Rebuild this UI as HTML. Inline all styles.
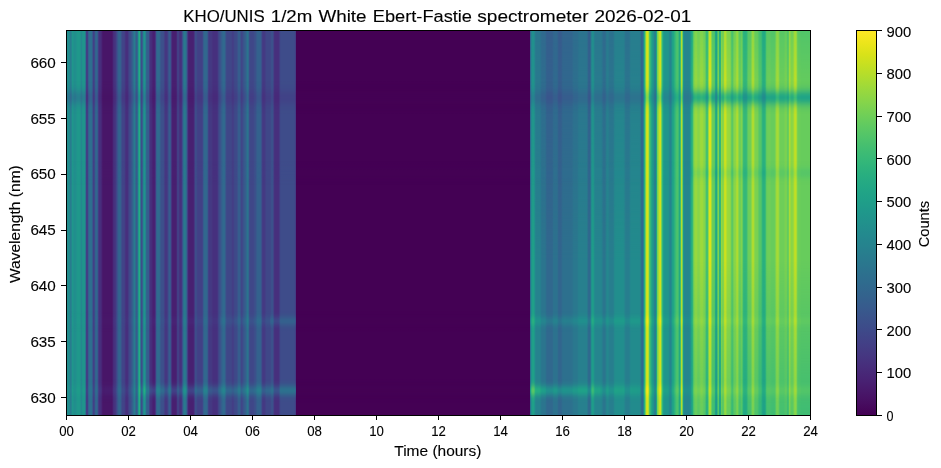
<!DOCTYPE html>
<html><head><meta charset="utf-8"><style>
html,body{margin:0;padding:0;background:#fff;width:941px;height:468px;overflow:hidden}
svg{display:block}
text{-webkit-font-smoothing:antialiased}
</style></head><body>
<svg width="941" height="468" viewBox="0 0 941 468" shape-rendering="crispEdges">
<defs><linearGradient id="vg0" x1="0" y1="0" x2="0" y2="1"><stop offset="0" stop-color="#fff" stop-opacity="0.000"/><stop offset="1" stop-color="#fff" stop-opacity="1.000"/></linearGradient><mask id="mvg0" maskUnits="userSpaceOnUse" x="67" y="260" width="743" height="155"><rect x="67" y="260" width="743" height="155" fill="url(#vg0)"/></mask><linearGradient id="vg1" x1="0" y1="0" x2="0" y2="1"><stop offset="0" stop-color="#fff" stop-opacity="1.000"/><stop offset="1" stop-color="#fff" stop-opacity="0.000"/></linearGradient><mask id="mvg1" maskUnits="userSpaceOnUse" x="67" y="31" width="743" height="59"><rect x="67" y="31" width="743" height="59" fill="url(#vg1)"/></mask><linearGradient id="vg2" x1="0" y1="0" x2="0" y2="1"><stop offset="0" stop-color="#fff" stop-opacity="1.000"/><stop offset="1" stop-color="#fff" stop-opacity="0.000"/></linearGradient><mask id="mvg2" maskUnits="userSpaceOnUse" x="67" y="31" width="743" height="229"><rect x="67" y="31" width="743" height="229" fill="url(#vg2)"/></mask><linearGradient id="bg0" x1="0" y1="0" x2="0" y2="1"><stop offset="0.000" stop-color="#fff" stop-opacity="0.011"/><stop offset="0.042" stop-color="#fff" stop-opacity="0.023"/><stop offset="0.083" stop-color="#fff" stop-opacity="0.044"/><stop offset="0.125" stop-color="#fff" stop-opacity="0.080"/><stop offset="0.167" stop-color="#fff" stop-opacity="0.135"/><stop offset="0.208" stop-color="#fff" stop-opacity="0.216"/><stop offset="0.250" stop-color="#fff" stop-opacity="0.325"/><stop offset="0.292" stop-color="#fff" stop-opacity="0.458"/><stop offset="0.333" stop-color="#fff" stop-opacity="0.607"/><stop offset="0.375" stop-color="#fff" stop-opacity="0.755"/><stop offset="0.417" stop-color="#fff" stop-opacity="0.882"/><stop offset="0.458" stop-color="#fff" stop-opacity="0.969"/><stop offset="0.500" stop-color="#fff" stop-opacity="1.000"/><stop offset="0.542" stop-color="#fff" stop-opacity="0.969"/><stop offset="0.583" stop-color="#fff" stop-opacity="0.882"/><stop offset="0.625" stop-color="#fff" stop-opacity="0.755"/><stop offset="0.667" stop-color="#fff" stop-opacity="0.607"/><stop offset="0.708" stop-color="#fff" stop-opacity="0.458"/><stop offset="0.750" stop-color="#fff" stop-opacity="0.325"/><stop offset="0.792" stop-color="#fff" stop-opacity="0.216"/><stop offset="0.833" stop-color="#fff" stop-opacity="0.135"/><stop offset="0.875" stop-color="#fff" stop-opacity="0.080"/><stop offset="0.917" stop-color="#fff" stop-opacity="0.044"/><stop offset="0.958" stop-color="#fff" stop-opacity="0.023"/><stop offset="1.000" stop-color="#fff" stop-opacity="0.011"/></linearGradient><mask id="mbg0" maskUnits="userSpaceOnUse" x="67" y="81.0" width="743" height="33.0"><rect x="67" y="81.0" width="743" height="33.0" fill="url(#bg0)"/></mask><linearGradient id="bg1" x1="0" y1="0" x2="0" y2="1"><stop offset="0.000" stop-color="#fff" stop-opacity="0.011"/><stop offset="0.042" stop-color="#fff" stop-opacity="0.023"/><stop offset="0.083" stop-color="#fff" stop-opacity="0.044"/><stop offset="0.125" stop-color="#fff" stop-opacity="0.080"/><stop offset="0.167" stop-color="#fff" stop-opacity="0.135"/><stop offset="0.208" stop-color="#fff" stop-opacity="0.216"/><stop offset="0.250" stop-color="#fff" stop-opacity="0.325"/><stop offset="0.292" stop-color="#fff" stop-opacity="0.458"/><stop offset="0.333" stop-color="#fff" stop-opacity="0.607"/><stop offset="0.375" stop-color="#fff" stop-opacity="0.755"/><stop offset="0.417" stop-color="#fff" stop-opacity="0.882"/><stop offset="0.458" stop-color="#fff" stop-opacity="0.969"/><stop offset="0.500" stop-color="#fff" stop-opacity="1.000"/><stop offset="0.542" stop-color="#fff" stop-opacity="0.969"/><stop offset="0.583" stop-color="#fff" stop-opacity="0.882"/><stop offset="0.625" stop-color="#fff" stop-opacity="0.755"/><stop offset="0.667" stop-color="#fff" stop-opacity="0.607"/><stop offset="0.708" stop-color="#fff" stop-opacity="0.458"/><stop offset="0.750" stop-color="#fff" stop-opacity="0.325"/><stop offset="0.792" stop-color="#fff" stop-opacity="0.216"/><stop offset="0.833" stop-color="#fff" stop-opacity="0.135"/><stop offset="0.875" stop-color="#fff" stop-opacity="0.080"/><stop offset="0.917" stop-color="#fff" stop-opacity="0.044"/><stop offset="0.958" stop-color="#fff" stop-opacity="0.023"/><stop offset="1.000" stop-color="#fff" stop-opacity="0.011"/></linearGradient><mask id="mbg1" maskUnits="userSpaceOnUse" x="67" y="161.0" width="743" height="24.0"><rect x="67" y="161.0" width="743" height="24.0" fill="url(#bg1)"/></mask><linearGradient id="bg2" x1="0" y1="0" x2="0" y2="1"><stop offset="0.000" stop-color="#fff" stop-opacity="0.011"/><stop offset="0.042" stop-color="#fff" stop-opacity="0.023"/><stop offset="0.083" stop-color="#fff" stop-opacity="0.044"/><stop offset="0.125" stop-color="#fff" stop-opacity="0.080"/><stop offset="0.167" stop-color="#fff" stop-opacity="0.135"/><stop offset="0.208" stop-color="#fff" stop-opacity="0.216"/><stop offset="0.250" stop-color="#fff" stop-opacity="0.325"/><stop offset="0.292" stop-color="#fff" stop-opacity="0.458"/><stop offset="0.333" stop-color="#fff" stop-opacity="0.607"/><stop offset="0.375" stop-color="#fff" stop-opacity="0.755"/><stop offset="0.417" stop-color="#fff" stop-opacity="0.882"/><stop offset="0.458" stop-color="#fff" stop-opacity="0.969"/><stop offset="0.500" stop-color="#fff" stop-opacity="1.000"/><stop offset="0.542" stop-color="#fff" stop-opacity="0.969"/><stop offset="0.583" stop-color="#fff" stop-opacity="0.882"/><stop offset="0.625" stop-color="#fff" stop-opacity="0.755"/><stop offset="0.667" stop-color="#fff" stop-opacity="0.607"/><stop offset="0.708" stop-color="#fff" stop-opacity="0.458"/><stop offset="0.750" stop-color="#fff" stop-opacity="0.325"/><stop offset="0.792" stop-color="#fff" stop-opacity="0.216"/><stop offset="0.833" stop-color="#fff" stop-opacity="0.135"/><stop offset="0.875" stop-color="#fff" stop-opacity="0.080"/><stop offset="0.917" stop-color="#fff" stop-opacity="0.044"/><stop offset="0.958" stop-color="#fff" stop-opacity="0.023"/><stop offset="1.000" stop-color="#fff" stop-opacity="0.011"/></linearGradient><mask id="mbg2" maskUnits="userSpaceOnUse" x="67" y="310.5" width="743" height="21.0"><rect x="67" y="310.5" width="743" height="21.0" fill="url(#bg2)"/></mask><linearGradient id="bg3" x1="0" y1="0" x2="0" y2="1"><stop offset="0.000" stop-color="#fff" stop-opacity="0.011"/><stop offset="0.042" stop-color="#fff" stop-opacity="0.023"/><stop offset="0.083" stop-color="#fff" stop-opacity="0.044"/><stop offset="0.125" stop-color="#fff" stop-opacity="0.080"/><stop offset="0.167" stop-color="#fff" stop-opacity="0.135"/><stop offset="0.208" stop-color="#fff" stop-opacity="0.216"/><stop offset="0.250" stop-color="#fff" stop-opacity="0.325"/><stop offset="0.292" stop-color="#fff" stop-opacity="0.458"/><stop offset="0.333" stop-color="#fff" stop-opacity="0.607"/><stop offset="0.375" stop-color="#fff" stop-opacity="0.755"/><stop offset="0.417" stop-color="#fff" stop-opacity="0.882"/><stop offset="0.458" stop-color="#fff" stop-opacity="0.969"/><stop offset="0.500" stop-color="#fff" stop-opacity="1.000"/><stop offset="0.542" stop-color="#fff" stop-opacity="0.969"/><stop offset="0.583" stop-color="#fff" stop-opacity="0.882"/><stop offset="0.625" stop-color="#fff" stop-opacity="0.755"/><stop offset="0.667" stop-color="#fff" stop-opacity="0.607"/><stop offset="0.708" stop-color="#fff" stop-opacity="0.458"/><stop offset="0.750" stop-color="#fff" stop-opacity="0.325"/><stop offset="0.792" stop-color="#fff" stop-opacity="0.216"/><stop offset="0.833" stop-color="#fff" stop-opacity="0.135"/><stop offset="0.875" stop-color="#fff" stop-opacity="0.080"/><stop offset="0.917" stop-color="#fff" stop-opacity="0.044"/><stop offset="0.958" stop-color="#fff" stop-opacity="0.023"/><stop offset="1.000" stop-color="#fff" stop-opacity="0.011"/></linearGradient><mask id="mbg3" maskUnits="userSpaceOnUse" x="67" y="378.5" width="743" height="24.0"><rect x="67" y="378.5" width="743" height="24.0" fill="url(#bg3)"/></mask><linearGradient id="cb" x1="0" y1="0" x2="0" y2="1"><stop offset="0.000" stop-color="#fde725"/><stop offset="0.031" stop-color="#ece51b"/><stop offset="0.062" stop-color="#d8e219"/><stop offset="0.094" stop-color="#c2df23"/><stop offset="0.125" stop-color="#addc30"/><stop offset="0.156" stop-color="#98d83e"/><stop offset="0.188" stop-color="#84d44b"/><stop offset="0.219" stop-color="#70cf57"/><stop offset="0.250" stop-color="#5ec962"/><stop offset="0.281" stop-color="#4ec36b"/><stop offset="0.312" stop-color="#3fbc73"/><stop offset="0.344" stop-color="#32b67a"/><stop offset="0.375" stop-color="#28ae80"/><stop offset="0.406" stop-color="#22a785"/><stop offset="0.438" stop-color="#1fa088"/><stop offset="0.469" stop-color="#1f988b"/><stop offset="0.500" stop-color="#21918c"/><stop offset="0.531" stop-color="#23898e"/><stop offset="0.562" stop-color="#26828e"/><stop offset="0.594" stop-color="#297a8e"/><stop offset="0.625" stop-color="#2c728e"/><stop offset="0.656" stop-color="#2f6b8e"/><stop offset="0.688" stop-color="#33638d"/><stop offset="0.719" stop-color="#375b8d"/><stop offset="0.750" stop-color="#3b528b"/><stop offset="0.781" stop-color="#3e4989"/><stop offset="0.812" stop-color="#424086"/><stop offset="0.844" stop-color="#453781"/><stop offset="0.875" stop-color="#472d7b"/><stop offset="0.906" stop-color="#482374"/><stop offset="0.938" stop-color="#48186a"/><stop offset="0.969" stop-color="#470d60"/><stop offset="1.000" stop-color="#440154"/></linearGradient></defs>
<rect width="941" height="468" fill="#fff"/>
<rect x="67" y="31" width="1" height="384" fill="#218e8d"/><rect x="68" y="31" width="1" height="384" fill="#228d8d"/><rect x="69" y="31" width="1" height="384" fill="#23888e"/><rect x="70" y="31" width="1" height="384" fill="#287c8e"/><rect x="71" y="31" width="1" height="384" fill="#25858e"/><rect x="72" y="31" width="1" height="384" fill="#1f968b"/><rect x="73" y="31" width="1" height="384" fill="#20928c"/><rect x="74" y="31" width="1" height="384" fill="#218e8d"/><rect x="75" y="31" width="1" height="384" fill="#218f8d"/><rect x="76" y="31" width="1" height="384" fill="#20938c"/><rect x="77" y="31" width="1" height="384" fill="#1f978b"/><rect x="78" y="31" width="1" height="384" fill="#1f988b"/><rect x="79" y="31" width="1" height="384" fill="#1f978b"/><rect x="80" y="31" width="1" height="384" fill="#21918c"/><rect x="81" y="31" width="1" height="384" fill="#23898e"/><rect x="82" y="31" width="1" height="384" fill="#20928c"/><rect x="83" y="31" width="1" height="384" fill="#1f958b"/><rect x="84" y="31" width="1" height="384" fill="#20938c"/><rect x="85" y="31" width="1" height="384" fill="#2a768e"/><rect x="86" y="31" width="1" height="384" fill="#423f85"/><rect x="87" y="31" width="1" height="384" fill="#433e85"/><rect x="88" y="31" width="1" height="384" fill="#355f8d"/><rect x="89" y="31" width="1" height="384" fill="#2e6d8e"/><rect x="90" y="31" width="1" height="384" fill="#2d708e"/><rect x="91" y="31" width="1" height="384" fill="#2e6e8e"/><rect x="92" y="31" width="1" height="384" fill="#375a8c"/><rect x="93" y="31" width="1" height="384" fill="#424086"/><rect x="94" y="31" width="1" height="384" fill="#3e4989"/><rect x="95" y="31" width="1" height="384" fill="#33628d"/><rect x="96" y="31" width="1" height="384" fill="#31678e"/><rect x="97" y="31" width="1" height="384" fill="#365c8d"/><rect x="98" y="31" width="1" height="384" fill="#433d84"/><rect x="99" y="31" width="1" height="384" fill="#472f7d"/><rect x="100" y="31" width="1" height="384" fill="#472e7c"/><rect x="101" y="31" width="1" height="384" fill="#482677"/><rect x="102" y="31" width="1" height="384" fill="#481a6c"/><rect x="103" y="31" width="9" height="384" fill="#481668"/><rect x="112" y="31" width="1" height="384" fill="#481c6e"/><rect x="113" y="31" width="1" height="384" fill="#472c7a"/><rect x="114" y="31" width="1" height="384" fill="#46327e"/><rect x="115" y="31" width="1" height="384" fill="#453781"/><rect x="116" y="31" width="1" height="384" fill="#404588"/><rect x="117" y="31" width="1" height="384" fill="#3a548c"/><rect x="118" y="31" width="1" height="384" fill="#33628d"/><rect x="119" y="31" width="1" height="384" fill="#32658e"/><rect x="120" y="31" width="1" height="384" fill="#34618d"/><rect x="121" y="31" width="1" height="384" fill="#3b518b"/><rect x="122" y="31" width="1" height="384" fill="#404588"/><rect x="123" y="31" width="1" height="384" fill="#414487"/><rect x="124" y="31" width="1" height="384" fill="#424086"/><rect x="125" y="31" width="1" height="384" fill="#463480"/><rect x="126" y="31" width="1" height="384" fill="#472f7d"/><rect x="127" y="31" width="1" height="384" fill="#46307e"/><rect x="128" y="31" width="1" height="384" fill="#433d84"/><rect x="129" y="31" width="1" height="384" fill="#3f4889"/><rect x="130" y="31" width="1" height="384" fill="#3e4c8a"/><rect x="131" y="31" width="1" height="384" fill="#39568c"/><rect x="132" y="31" width="1" height="384" fill="#33628d"/><rect x="133" y="31" width="1" height="384" fill="#2e6f8e"/><rect x="134" y="31" width="1" height="384" fill="#287c8e"/><rect x="135" y="31" width="1" height="384" fill="#2f6c8e"/><rect x="136" y="31" width="1" height="384" fill="#365d8d"/><rect x="137" y="31" width="1" height="384" fill="#2f6c8e"/><rect x="138" y="31" width="1" height="384" fill="#1f9a8a"/><rect x="139" y="31" width="1" height="384" fill="#26ad81"/><rect x="140" y="31" width="1" height="384" fill="#2a788e"/><rect x="141" y="31" width="1" height="384" fill="#3d4d8a"/><rect x="142" y="31" width="1" height="384" fill="#34618d"/><rect x="143" y="31" width="1" height="384" fill="#24868e"/><rect x="144" y="31" width="1" height="384" fill="#1f948c"/><rect x="145" y="31" width="1" height="384" fill="#25838e"/><rect x="146" y="31" width="1" height="384" fill="#32648e"/><rect x="147" y="31" width="1" height="384" fill="#365d8d"/><rect x="148" y="31" width="1" height="384" fill="#365c8d"/><rect x="149" y="31" width="1" height="384" fill="#424086"/><rect x="150" y="31" width="1" height="384" fill="#472f7d"/><rect x="151" y="31" width="1" height="384" fill="#472c7a"/><rect x="152" y="31" width="1" height="384" fill="#482475"/><rect x="153" y="31" width="1" height="384" fill="#482071"/><rect x="154" y="31" width="1" height="384" fill="#482173"/><rect x="155" y="31" width="1" height="384" fill="#453781"/><rect x="156" y="31" width="1" height="384" fill="#355f8d"/><rect x="157" y="31" width="1" height="384" fill="#306a8e"/><rect x="158" y="31" width="1" height="384" fill="#2f6b8e"/><rect x="159" y="31" width="1" height="384" fill="#31678e"/><rect x="160" y="31" width="1" height="384" fill="#38598c"/><rect x="161" y="31" width="1" height="384" fill="#3b518b"/><rect x="162" y="31" width="1" height="384" fill="#3c508b"/><rect x="163" y="31" width="1" height="384" fill="#3d4e8a"/><rect x="164" y="31" width="1" height="384" fill="#424186"/><rect x="165" y="31" width="2" height="384" fill="#453781"/><rect x="167" y="31" width="1" height="384" fill="#423f85"/><rect x="168" y="31" width="1" height="384" fill="#3b518b"/><rect x="169" y="31" width="1" height="384" fill="#365c8d"/><rect x="170" y="31" width="1" height="384" fill="#3a548c"/><rect x="171" y="31" width="1" height="384" fill="#463480"/><rect x="172" y="31" width="1" height="384" fill="#482071"/><rect x="173" y="31" width="3" height="384" fill="#481f70"/><rect x="176" y="31" width="1" height="384" fill="#482677"/><rect x="177" y="31" width="1" height="384" fill="#433e85"/><rect x="178" y="31" width="1" height="384" fill="#424086"/><rect x="179" y="31" width="1" height="384" fill="#46337f"/><rect x="180" y="31" width="1" height="384" fill="#472f7d"/><rect x="181" y="31" width="1" height="384" fill="#453581"/><rect x="182" y="31" width="1" height="384" fill="#3b518b"/><rect x="183" y="31" width="1" height="384" fill="#2e6d8e"/><rect x="184" y="31" width="1" height="384" fill="#29798e"/><rect x="185" y="31" width="1" height="384" fill="#2b758e"/><rect x="186" y="31" width="1" height="384" fill="#32658e"/><rect x="187" y="31" width="1" height="384" fill="#424186"/><rect x="188" y="31" width="1" height="384" fill="#482475"/><rect x="189" y="31" width="4" height="384" fill="#482071"/><rect x="193" y="31" width="1" height="384" fill="#482374"/><rect x="194" y="31" width="1" height="384" fill="#453781"/><rect x="195" y="31" width="1" height="384" fill="#3e4c8a"/><rect x="196" y="31" width="1" height="384" fill="#3e4a89"/><rect x="197" y="31" width="1" height="384" fill="#414287"/><rect x="198" y="31" width="4" height="384" fill="#424086"/><rect x="202" y="31" width="1" height="384" fill="#404688"/><rect x="203" y="31" width="1" height="384" fill="#365c8d"/><rect x="204" y="31" width="1" height="384" fill="#31678e"/><rect x="205" y="31" width="1" height="384" fill="#31688e"/><rect x="206" y="31" width="1" height="384" fill="#31678e"/><rect x="207" y="31" width="1" height="384" fill="#365c8d"/><rect x="208" y="31" width="1" height="384" fill="#414287"/><rect x="209" y="31" width="2" height="384" fill="#443983"/><rect x="211" y="31" width="1" height="384" fill="#453882"/><rect x="212" y="31" width="1" height="384" fill="#46337f"/><rect x="213" y="31" width="4" height="384" fill="#46307e"/><rect x="217" y="31" width="1" height="384" fill="#453581"/><rect x="218" y="31" width="1" height="384" fill="#414487"/><rect x="219" y="31" width="1" height="384" fill="#3d4d8a"/><rect x="220" y="31" width="1" height="384" fill="#3a548c"/><rect x="221" y="31" width="1" height="384" fill="#355e8d"/><rect x="222" y="31" width="1" height="384" fill="#32658e"/><rect x="223" y="31" width="1" height="384" fill="#306a8e"/><rect x="224" y="31" width="1" height="384" fill="#31688e"/><rect x="225" y="31" width="1" height="384" fill="#375a8c"/><rect x="226" y="31" width="1" height="384" fill="#3e4a89"/><rect x="227" y="31" width="3" height="384" fill="#3f4788"/><rect x="230" y="31" width="1" height="384" fill="#404688"/><rect x="231" y="31" width="1" height="384" fill="#414487"/><rect x="232" y="31" width="1" height="384" fill="#433e85"/><rect x="233" y="31" width="1" height="384" fill="#424086"/><rect x="234" y="31" width="1" height="384" fill="#3f4788"/><rect x="235" y="31" width="1" height="384" fill="#3e4989"/><rect x="236" y="31" width="1" height="384" fill="#3e4a89"/><rect x="237" y="31" width="1" height="384" fill="#3b528b"/><rect x="238" y="31" width="1" height="384" fill="#365d8d"/><rect x="239" y="31" width="1" height="384" fill="#355e8d"/><rect x="240" y="31" width="1" height="384" fill="#3a538b"/><rect x="241" y="31" width="1" height="384" fill="#404688"/><rect x="242" y="31" width="1" height="384" fill="#3e4a89"/><rect x="243" y="31" width="1" height="384" fill="#3a538b"/><rect x="244" y="31" width="1" height="384" fill="#375a8c"/><rect x="245" y="31" width="1" height="384" fill="#355f8d"/><rect x="246" y="31" width="1" height="384" fill="#30698e"/><rect x="247" y="31" width="1" height="384" fill="#2b748e"/><rect x="248" y="31" width="1" height="384" fill="#30698e"/><rect x="249" y="31" width="1" height="384" fill="#3c4f8a"/><rect x="250" y="31" width="3" height="384" fill="#3f4788"/><rect x="253" y="31" width="1" height="384" fill="#3f4889"/><rect x="254" y="31" width="1" height="384" fill="#3d4e8a"/><rect x="255" y="31" width="1" height="384" fill="#3b518b"/><rect x="256" y="31" width="1" height="384" fill="#375a8c"/><rect x="257" y="31" width="1" height="384" fill="#34618d"/><rect x="258" y="31" width="2" height="384" fill="#33628d"/><rect x="260" y="31" width="1" height="384" fill="#34608d"/><rect x="261" y="31" width="1" height="384" fill="#3b518b"/><rect x="262" y="31" width="1" height="384" fill="#433d84"/><rect x="263" y="31" width="1" height="384" fill="#443983"/><rect x="264" y="31" width="1" height="384" fill="#443a83"/><rect x="265" y="31" width="1" height="384" fill="#424086"/><rect x="266" y="31" width="1" height="384" fill="#404688"/><rect x="267" y="31" width="3" height="384" fill="#3f4788"/><rect x="270" y="31" width="1" height="384" fill="#3e4989"/><rect x="271" y="31" width="1" height="384" fill="#3c508b"/><rect x="272" y="31" width="1" height="384" fill="#3b518b"/><rect x="273" y="31" width="1" height="384" fill="#414487"/><rect x="274" y="31" width="1" height="384" fill="#46327e"/><rect x="275" y="31" width="3" height="384" fill="#472f7d"/><rect x="278" y="31" width="1" height="384" fill="#46307e"/><rect x="279" y="31" width="1" height="384" fill="#443b84"/><rect x="280" y="31" width="1" height="384" fill="#3e4989"/><rect x="281" y="31" width="13" height="384" fill="#3e4c8a"/><rect x="294" y="31" width="1" height="384" fill="#3e4a89"/><rect x="295" y="31" width="1" height="384" fill="#433d84"/><rect x="296" y="31" width="234" height="384" fill="#440154"/><rect x="530" y="31" width="1" height="384" fill="#2c728e"/><rect x="531" y="31" width="1" height="384" fill="#1f948c"/><rect x="532" y="31" width="1" height="384" fill="#1f9f88"/><rect x="533" y="31" width="1" height="384" fill="#1fa088"/><rect x="534" y="31" width="1" height="384" fill="#1f968b"/><rect x="535" y="31" width="1" height="384" fill="#24878e"/><rect x="536" y="31" width="4" height="384" fill="#26828e"/><rect x="540" y="31" width="1" height="384" fill="#277e8e"/><rect x="541" y="31" width="1" height="384" fill="#2a778e"/><rect x="542" y="31" width="3" height="384" fill="#2b758e"/><rect x="545" y="31" width="1" height="384" fill="#2c728e"/><rect x="546" y="31" width="1" height="384" fill="#2f6b8e"/><rect x="547" y="31" width="5" height="384" fill="#31688e"/><rect x="552" y="31" width="1" height="384" fill="#306a8e"/><rect x="553" y="31" width="1" height="384" fill="#2d718e"/><rect x="554" y="31" width="3" height="384" fill="#2c728e"/><rect x="557" y="31" width="1" height="384" fill="#2e6f8e"/><rect x="558" y="31" width="1" height="384" fill="#31678e"/><rect x="559" y="31" width="2" height="384" fill="#32658e"/><rect x="561" y="31" width="1" height="384" fill="#31688e"/><rect x="562" y="31" width="1" height="384" fill="#2e6e8e"/><rect x="563" y="31" width="8" height="384" fill="#2d708e"/><rect x="571" y="31" width="1" height="384" fill="#2d718e"/><rect x="572" y="31" width="1" height="384" fill="#2c738e"/><rect x="573" y="31" width="1" height="384" fill="#2a778e"/><rect x="574" y="31" width="3" height="384" fill="#2a788e"/><rect x="577" y="31" width="1" height="384" fill="#297a8e"/><rect x="578" y="31" width="1" height="384" fill="#277f8e"/><rect x="579" y="31" width="8" height="384" fill="#27808e"/><rect x="587" y="31" width="1" height="384" fill="#2a778e"/><rect x="588" y="31" width="1" height="384" fill="#2f6b8e"/><rect x="589" y="31" width="1" height="384" fill="#30698e"/><rect x="590" y="31" width="1" height="384" fill="#2b748e"/><rect x="591" y="31" width="1" height="384" fill="#20928c"/><rect x="592" y="31" width="1" height="384" fill="#1e9d89"/><rect x="593" y="31" width="1" height="384" fill="#1f998a"/><rect x="594" y="31" width="1" height="384" fill="#228c8d"/><rect x="595" y="31" width="1" height="384" fill="#24868e"/><rect x="596" y="31" width="5" height="384" fill="#25858e"/><rect x="601" y="31" width="1" height="384" fill="#25838e"/><rect x="602" y="31" width="1" height="384" fill="#287c8e"/><rect x="603" y="31" width="1" height="384" fill="#2a768e"/><rect x="604" y="31" width="1" height="384" fill="#2b758e"/><rect x="605" y="31" width="1" height="384" fill="#297a8e"/><rect x="606" y="31" width="1" height="384" fill="#25838e"/><rect x="607" y="31" width="1" height="384" fill="#24878e"/><rect x="608" y="31" width="1" height="384" fill="#25848e"/><rect x="609" y="31" width="1" height="384" fill="#277f8e"/><rect x="610" y="31" width="3" height="384" fill="#277e8e"/><rect x="613" y="31" width="1" height="384" fill="#26818e"/><rect x="614" y="31" width="1" height="384" fill="#238a8d"/><rect x="615" y="31" width="1" height="384" fill="#228d8d"/><rect x="616" y="31" width="7" height="384" fill="#218e8d"/><rect x="623" y="31" width="1" height="384" fill="#228d8d"/><rect x="624" y="31" width="1" height="384" fill="#24878e"/><rect x="625" y="31" width="1" height="384" fill="#27808e"/><rect x="626" y="31" width="3" height="384" fill="#277e8e"/><rect x="629" y="31" width="1" height="384" fill="#26818e"/><rect x="630" y="31" width="1" height="384" fill="#23888e"/><rect x="631" y="31" width="8" height="384" fill="#228b8d"/><rect x="639" y="31" width="1" height="384" fill="#238a8d"/><rect x="640" y="31" width="1" height="384" fill="#27808e"/><rect x="641" y="31" width="1" height="384" fill="#2e6e8e"/><rect x="642" y="31" width="1" height="384" fill="#306a8e"/><rect x="643" y="31" width="1" height="384" fill="#26828e"/><rect x="644" y="31" width="1" height="384" fill="#29af7f"/><rect x="645" y="31" width="1" height="384" fill="#73d056"/><rect x="646" y="31" width="1" height="384" fill="#cae11f"/><rect x="647" y="31" width="1" height="384" fill="#d8e219"/><rect x="648" y="31" width="1" height="384" fill="#b0dd2f"/><rect x="649" y="31" width="1" height="384" fill="#52c569"/><rect x="650" y="31" width="1" height="384" fill="#34b679"/><rect x="651" y="31" width="1" height="384" fill="#22a884"/><rect x="652" y="31" width="1" height="384" fill="#1f9a8a"/><rect x="653" y="31" width="1" height="384" fill="#20928c"/><rect x="654" y="31" width="1" height="384" fill="#26828e"/><rect x="655" y="31" width="1" height="384" fill="#277f8e"/><rect x="656" y="31" width="1" height="384" fill="#1fa287"/><rect x="657" y="31" width="1" height="384" fill="#77d153"/><rect x="658" y="31" width="1" height="384" fill="#a0da39"/><rect x="659" y="31" width="1" height="384" fill="#c5e021"/><rect x="660" y="31" width="1" height="384" fill="#d0e11c"/><rect x="661" y="31" width="1" height="384" fill="#75d054"/><rect x="662" y="31" width="1" height="384" fill="#31b57b"/><rect x="663" y="31" width="1" height="384" fill="#1f9f88"/><rect x="664" y="31" width="1" height="384" fill="#1f968b"/><rect x="665" y="31" width="3" height="384" fill="#1f958b"/><rect x="668" y="31" width="1" height="384" fill="#20928c"/><rect x="669" y="31" width="1" height="384" fill="#23888e"/><rect x="670" y="31" width="1" height="384" fill="#25848e"/><rect x="671" y="31" width="1" height="384" fill="#218f8d"/><rect x="672" y="31" width="1" height="384" fill="#1fa088"/><rect x="673" y="31" width="1" height="384" fill="#21a685"/><rect x="674" y="31" width="1" height="384" fill="#2cb17e"/><rect x="675" y="31" width="1" height="384" fill="#3aba76"/><rect x="676" y="31" width="1" height="384" fill="#48c16e"/><rect x="677" y="31" width="1" height="384" fill="#4cc26c"/><rect x="678" y="31" width="1" height="384" fill="#3bbb75"/><rect x="679" y="31" width="1" height="384" fill="#22a884"/><rect x="680" y="31" width="1" height="384" fill="#42be71"/><rect x="681" y="31" width="1" height="384" fill="#b2dd2d"/><rect x="682" y="31" width="1" height="384" fill="#6ccd5a"/><rect x="683" y="31" width="1" height="384" fill="#1f968b"/><rect x="684" y="31" width="1" height="384" fill="#24868e"/><rect x="685" y="31" width="4" height="384" fill="#25858e"/><rect x="689" y="31" width="1" height="384" fill="#23888e"/><rect x="690" y="31" width="1" height="384" fill="#1f998a"/><rect x="691" y="31" width="1" height="384" fill="#25ac82"/><rect x="692" y="31" width="1" height="384" fill="#35b779"/><rect x="693" y="31" width="1" height="384" fill="#6ccd5a"/><rect x="694" y="31" width="1" height="384" fill="#8bd646"/><rect x="695" y="31" width="2" height="384" fill="#98d83e"/><rect x="697" y="31" width="1" height="384" fill="#8ed645"/><rect x="698" y="31" width="1" height="384" fill="#89d548"/><rect x="699" y="31" width="1" height="384" fill="#8ed645"/><rect x="700" y="31" width="1" height="384" fill="#9bd93c"/><rect x="701" y="31" width="1" height="384" fill="#9dd93b"/><rect x="702" y="31" width="1" height="384" fill="#9bd93c"/><rect x="703" y="31" width="1" height="384" fill="#8ed645"/><rect x="704" y="31" width="1" height="384" fill="#86d549"/><rect x="705" y="31" width="1" height="384" fill="#6ece58"/><rect x="706" y="31" width="1" height="384" fill="#48c16e"/><rect x="707" y="31" width="1" height="384" fill="#4ac16d"/><rect x="708" y="31" width="1" height="384" fill="#98d83e"/><rect x="709" y="31" width="1" height="384" fill="#dfe318"/><rect x="710" y="31" width="1" height="384" fill="#dde318"/><rect x="711" y="31" width="1" height="384" fill="#9dd93b"/><rect x="712" y="31" width="1" height="384" fill="#6ccd5a"/><rect x="713" y="31" width="1" height="384" fill="#67cc5c"/><rect x="714" y="31" width="1" height="384" fill="#5cc863"/><rect x="715" y="31" width="1" height="384" fill="#29af7f"/><rect x="716" y="31" width="1" height="384" fill="#22a785"/><rect x="717" y="31" width="1" height="384" fill="#58c765"/><rect x="718" y="31" width="1" height="384" fill="#7fd34e"/><rect x="719" y="31" width="1" height="384" fill="#31b57b"/><rect x="720" y="31" width="1" height="384" fill="#35b779"/><rect x="721" y="31" width="1" height="384" fill="#93d741"/><rect x="722" y="31" width="1" height="384" fill="#86d549"/><rect x="723" y="31" width="1" height="384" fill="#8ed645"/><rect x="724" y="31" width="1" height="384" fill="#c5e021"/><rect x="725" y="31" width="1" height="384" fill="#cde11d"/><rect x="726" y="31" width="1" height="384" fill="#b2dd2d"/><rect x="727" y="31" width="1" height="384" fill="#9bd93c"/><rect x="728" y="31" width="1" height="384" fill="#98d83e"/><rect x="729" y="31" width="1" height="384" fill="#95d840"/><rect x="730" y="31" width="1" height="384" fill="#89d548"/><rect x="731" y="31" width="1" height="384" fill="#65cb5e"/><rect x="732" y="31" width="1" height="384" fill="#5cc863"/><rect x="733" y="31" width="1" height="384" fill="#77d153"/><rect x="734" y="31" width="1" height="384" fill="#89d548"/><rect x="735" y="31" width="1" height="384" fill="#8ed645"/><rect x="736" y="31" width="1" height="384" fill="#a5db36"/><rect x="737" y="31" width="1" height="384" fill="#addc30"/><rect x="738" y="31" width="1" height="384" fill="#8bd646"/><rect x="739" y="31" width="2" height="384" fill="#70cf57"/><rect x="741" y="31" width="1" height="384" fill="#7fd34e"/><rect x="742" y="31" width="1" height="384" fill="#65cb5e"/><rect x="743" y="31" width="1" height="384" fill="#3bbb75"/><rect x="744" y="31" width="2" height="384" fill="#35b779"/><rect x="746" y="31" width="1" height="384" fill="#3aba76"/><rect x="747" y="31" width="1" height="384" fill="#56c667"/><rect x="748" y="31" width="1" height="384" fill="#6ccd5a"/><rect x="749" y="31" width="1" height="384" fill="#6ece58"/><rect x="750" y="31" width="1" height="384" fill="#70cf57"/><rect x="751" y="31" width="1" height="384" fill="#8bd646"/><rect x="752" y="31" width="2" height="384" fill="#addc30"/><rect x="754" y="31" width="1" height="384" fill="#8ed645"/><rect x="755" y="31" width="1" height="384" fill="#7cd250"/><rect x="756" y="31" width="1" height="384" fill="#7ad151"/><rect x="757" y="31" width="1" height="384" fill="#77d153"/><rect x="758" y="31" width="1" height="384" fill="#65cb5e"/><rect x="759" y="31" width="1" height="384" fill="#56c667"/><rect x="760" y="31" width="1" height="384" fill="#54c568"/><rect x="761" y="31" width="1" height="384" fill="#46c06f"/><rect x="762" y="31" width="1" height="384" fill="#2fb47c"/><rect x="763" y="31" width="1" height="384" fill="#2ab07f"/><rect x="764" y="31" width="1" height="384" fill="#2cb17e"/><rect x="765" y="31" width="1" height="384" fill="#3bbb75"/><rect x="766" y="31" width="1" height="384" fill="#60ca60"/><rect x="767" y="31" width="1" height="384" fill="#6ccd5a"/><rect x="768" y="31" width="2" height="384" fill="#6ece58"/><rect x="770" y="31" width="1" height="384" fill="#6ccd5a"/><rect x="771" y="31" width="3" height="384" fill="#67cc5c"/><rect x="774" y="31" width="1" height="384" fill="#69cd5b"/><rect x="775" y="31" width="1" height="384" fill="#7fd34e"/><rect x="776" y="31" width="1" height="384" fill="#9dd93b"/><rect x="777" y="31" width="1" height="384" fill="#a5db36"/><rect x="778" y="31" width="1" height="384" fill="#9bd93c"/><rect x="779" y="31" width="1" height="384" fill="#7cd250"/><rect x="780" y="31" width="4" height="384" fill="#6ece58"/><rect x="784" y="31" width="1" height="384" fill="#73d056"/><rect x="785" y="31" width="1" height="384" fill="#7ad151"/><rect x="786" y="31" width="1" height="384" fill="#77d153"/><rect x="787" y="31" width="1" height="384" fill="#63cb5f"/><rect x="788" y="31" width="1" height="384" fill="#6ece58"/><rect x="789" y="31" width="1" height="384" fill="#aadc32"/><rect x="790" y="31" width="1" height="384" fill="#9bd93c"/><rect x="791" y="31" width="1" height="384" fill="#89d548"/><rect x="792" y="31" width="1" height="384" fill="#8bd646"/><rect x="793" y="31" width="1" height="384" fill="#9bd93c"/><rect x="794" y="31" width="1" height="384" fill="#bade28"/><rect x="795" y="31" width="1" height="384" fill="#c2df23"/><rect x="796" y="31" width="1" height="384" fill="#aadc32"/><rect x="797" y="31" width="1" height="384" fill="#7cd250"/><rect x="798" y="31" width="1" height="384" fill="#6ece58"/><rect x="799" y="31" width="1" height="384" fill="#6ccd5a"/><rect x="800" y="31" width="1" height="384" fill="#69cd5b"/><rect x="801" y="31" width="9" height="384" fill="#67cc5c"/><g mask="url(#mvg0)"><rect x="690" y="260" width="1" height="155" fill="#228d8d"/><rect x="691" y="260" width="1" height="155" fill="#1e9d89"/><rect x="692" y="260" width="1" height="155" fill="#22a884"/><rect x="693" y="260" width="1" height="155" fill="#44bf70"/><rect x="694" y="260" width="1" height="155" fill="#5ac864"/><rect x="695" y="260" width="2" height="155" fill="#65cb5e"/><rect x="697" y="260" width="1" height="155" fill="#5cc863"/><rect x="698" y="260" width="1" height="155" fill="#58c765"/><rect x="699" y="260" width="1" height="155" fill="#5cc863"/><rect x="700" y="260" width="1" height="155" fill="#65cb5e"/><rect x="701" y="260" width="1" height="155" fill="#67cc5c"/><rect x="702" y="260" width="1" height="155" fill="#65cb5e"/><rect x="703" y="260" width="1" height="155" fill="#5cc863"/><rect x="704" y="260" width="1" height="155" fill="#56c667"/><rect x="705" y="260" width="1" height="155" fill="#44bf70"/><rect x="706" y="260" width="1" height="155" fill="#2cb17e"/><rect x="707" y="260" width="1" height="155" fill="#2db27d"/><rect x="708" y="260" width="1" height="155" fill="#63cb5f"/><rect x="709" y="260" width="1" height="155" fill="#a0da39"/><rect x="710" y="260" width="1" height="155" fill="#9dd93b"/><rect x="711" y="260" width="1" height="155" fill="#67cc5c"/><rect x="712" y="260" width="1" height="155" fill="#42be71"/><rect x="713" y="260" width="1" height="155" fill="#40bd72"/><rect x="714" y="260" width="1" height="155" fill="#38b977"/><rect x="715" y="260" width="1" height="155" fill="#1fa088"/><rect x="716" y="260" width="1" height="155" fill="#1f998a"/><rect x="717" y="260" width="1" height="155" fill="#35b779"/><rect x="718" y="260" width="1" height="155" fill="#52c569"/><rect x="719" y="260" width="1" height="155" fill="#21a585"/><rect x="720" y="260" width="1" height="155" fill="#22a884"/><rect x="721" y="260" width="1" height="155" fill="#60ca60"/><rect x="722" y="260" width="1" height="155" fill="#56c667"/><rect x="723" y="260" width="1" height="155" fill="#5cc863"/><rect x="724" y="260" width="1" height="155" fill="#86d549"/><rect x="725" y="260" width="1" height="155" fill="#90d743"/><rect x="726" y="260" width="1" height="155" fill="#77d153"/><rect x="727" y="260" width="1" height="155" fill="#65cb5e"/><rect x="728" y="260" width="2" height="155" fill="#63cb5f"/><rect x="730" y="260" width="1" height="155" fill="#58c765"/><rect x="731" y="260" width="1" height="155" fill="#3fbc73"/><rect x="732" y="260" width="1" height="155" fill="#38b977"/><rect x="733" y="260" width="1" height="155" fill="#4ac16d"/><rect x="734" y="260" width="1" height="155" fill="#58c765"/><rect x="735" y="260" width="1" height="155" fill="#5cc863"/><rect x="736" y="260" width="1" height="155" fill="#6ece58"/><rect x="737" y="260" width="1" height="155" fill="#75d054"/><rect x="738" y="260" width="1" height="155" fill="#5ac864"/><rect x="739" y="260" width="2" height="155" fill="#46c06f"/><rect x="741" y="260" width="1" height="155" fill="#50c46a"/><rect x="742" y="260" width="1" height="155" fill="#3dbc74"/><rect x="743" y="260" width="1" height="155" fill="#25ac82"/><rect x="744" y="260" width="2" height="155" fill="#22a884"/><rect x="746" y="260" width="1" height="155" fill="#25ab82"/><rect x="747" y="260" width="1" height="155" fill="#34b679"/><rect x="748" y="260" width="1" height="155" fill="#42be71"/><rect x="749" y="260" width="1" height="155" fill="#44bf70"/><rect x="750" y="260" width="1" height="155" fill="#46c06f"/><rect x="751" y="260" width="1" height="155" fill="#5ac864"/><rect x="752" y="260" width="1" height="155" fill="#75d054"/><rect x="753" y="260" width="1" height="155" fill="#73d056"/><rect x="754" y="260" width="1" height="155" fill="#5cc863"/><rect x="755" y="260" width="2" height="155" fill="#4ec36b"/><rect x="757" y="260" width="1" height="155" fill="#4ac16d"/><rect x="758" y="260" width="1" height="155" fill="#3dbc74"/><rect x="759" y="260" width="1" height="155" fill="#34b679"/><rect x="760" y="260" width="1" height="155" fill="#32b67a"/><rect x="761" y="260" width="1" height="155" fill="#2ab07f"/><rect x="762" y="260" width="1" height="155" fill="#21a585"/><rect x="763" y="260" width="2" height="155" fill="#1fa187"/><rect x="765" y="260" width="1" height="155" fill="#25ab82"/><rect x="766" y="260" width="1" height="155" fill="#3bbb75"/><rect x="767" y="260" width="3" height="155" fill="#44bf70"/><rect x="770" y="260" width="1" height="155" fill="#42be71"/><rect x="771" y="260" width="1" height="155" fill="#40bd72"/><rect x="772" y="260" width="2" height="155" fill="#3fbc73"/><rect x="774" y="260" width="1" height="155" fill="#40bd72"/><rect x="775" y="260" width="1" height="155" fill="#50c46a"/><rect x="776" y="260" width="1" height="155" fill="#69cd5b"/><rect x="777" y="260" width="1" height="155" fill="#6ece58"/><rect x="778" y="260" width="1" height="155" fill="#65cb5e"/><rect x="779" y="260" width="1" height="155" fill="#4ec36b"/><rect x="780" y="260" width="4" height="155" fill="#44bf70"/><rect x="784" y="260" width="1" height="155" fill="#48c16e"/><rect x="785" y="260" width="2" height="155" fill="#4cc26c"/><rect x="787" y="260" width="1" height="155" fill="#3bbb75"/><rect x="788" y="260" width="1" height="155" fill="#44bf70"/><rect x="789" y="260" width="1" height="155" fill="#73d056"/><rect x="790" y="260" width="1" height="155" fill="#65cb5e"/><rect x="791" y="260" width="2" height="155" fill="#58c765"/><rect x="793" y="260" width="1" height="155" fill="#67cc5c"/><rect x="794" y="260" width="1" height="155" fill="#7fd34e"/><rect x="795" y="260" width="1" height="155" fill="#86d549"/><rect x="796" y="260" width="1" height="155" fill="#73d056"/><rect x="797" y="260" width="1" height="155" fill="#4ec36b"/><rect x="798" y="260" width="1" height="155" fill="#44bf70"/><rect x="799" y="260" width="1" height="155" fill="#42be71"/><rect x="800" y="260" width="1" height="155" fill="#40bd72"/><rect x="801" y="260" width="9" height="155" fill="#3fbc73"/></g><g mask="url(#mvg1)"><rect x="690" y="31" width="1" height="59" fill="#20938c"/><rect x="691" y="31" width="1" height="59" fill="#20a486"/><rect x="692" y="31" width="1" height="59" fill="#2ab07f"/><rect x="693" y="31" width="1" height="59" fill="#58c765"/><rect x="694" y="31" width="1" height="59" fill="#73d056"/><rect x="695" y="31" width="2" height="59" fill="#7fd34e"/><rect x="697" y="31" width="1" height="59" fill="#73d056"/><rect x="698" y="31" width="1" height="59" fill="#70cf57"/><rect x="699" y="31" width="1" height="59" fill="#73d056"/><rect x="700" y="31" width="1" height="59" fill="#7fd34e"/><rect x="701" y="31" width="1" height="59" fill="#81d34d"/><rect x="702" y="31" width="1" height="59" fill="#7fd34e"/><rect x="703" y="31" width="1" height="59" fill="#73d056"/><rect x="704" y="31" width="1" height="59" fill="#6ece58"/><rect x="705" y="31" width="1" height="59" fill="#58c765"/><rect x="706" y="31" width="1" height="59" fill="#38b977"/><rect x="707" y="31" width="1" height="59" fill="#3aba76"/><rect x="708" y="31" width="1" height="59" fill="#7cd250"/><rect x="709" y="31" width="1" height="59" fill="#c0df25"/><rect x="710" y="31" width="1" height="59" fill="#bddf26"/><rect x="711" y="31" width="1" height="59" fill="#81d34d"/><rect x="712" y="31" width="1" height="59" fill="#56c667"/><rect x="713" y="31" width="1" height="59" fill="#52c569"/><rect x="714" y="31" width="1" height="59" fill="#48c16e"/><rect x="715" y="31" width="1" height="59" fill="#22a884"/><rect x="716" y="31" width="1" height="59" fill="#1fa188"/><rect x="717" y="31" width="1" height="59" fill="#44bf70"/><rect x="718" y="31" width="1" height="59" fill="#67cc5c"/><rect x="719" y="31" width="1" height="59" fill="#26ad81"/><rect x="720" y="31" width="1" height="59" fill="#2ab07f"/><rect x="721" y="31" width="1" height="59" fill="#77d153"/><rect x="722" y="31" width="1" height="59" fill="#6ece58"/><rect x="723" y="31" width="1" height="59" fill="#75d054"/><rect x="724" y="31" width="1" height="59" fill="#a5db36"/><rect x="725" y="31" width="1" height="59" fill="#addc30"/><rect x="726" y="31" width="1" height="59" fill="#93d741"/><rect x="727" y="31" width="1" height="59" fill="#7fd34e"/><rect x="728" y="31" width="2" height="59" fill="#7cd250"/><rect x="730" y="31" width="1" height="59" fill="#70cf57"/><rect x="731" y="31" width="1" height="59" fill="#50c46a"/><rect x="732" y="31" width="1" height="59" fill="#48c16e"/><rect x="733" y="31" width="1" height="59" fill="#5ec962"/><rect x="734" y="31" width="1" height="59" fill="#6ece58"/><rect x="735" y="31" width="1" height="59" fill="#75d054"/><rect x="736" y="31" width="1" height="59" fill="#89d548"/><rect x="737" y="31" width="1" height="59" fill="#90d743"/><rect x="738" y="31" width="1" height="59" fill="#73d056"/><rect x="739" y="31" width="2" height="59" fill="#5ac864"/><rect x="741" y="31" width="1" height="59" fill="#67cc5c"/><rect x="742" y="31" width="1" height="59" fill="#50c46a"/><rect x="743" y="31" width="1" height="59" fill="#2eb37c"/><rect x="744" y="31" width="2" height="59" fill="#2ab07f"/><rect x="746" y="31" width="1" height="59" fill="#2eb37c"/><rect x="747" y="31" width="1" height="59" fill="#42be71"/><rect x="748" y="31" width="1" height="59" fill="#56c667"/><rect x="749" y="31" width="1" height="59" fill="#58c765"/><rect x="750" y="31" width="1" height="59" fill="#5ac864"/><rect x="751" y="31" width="1" height="59" fill="#73d056"/><rect x="752" y="31" width="1" height="59" fill="#90d743"/><rect x="753" y="31" width="1" height="59" fill="#8ed645"/><rect x="754" y="31" width="1" height="59" fill="#73d056"/><rect x="755" y="31" width="1" height="59" fill="#65cb5e"/><rect x="756" y="31" width="1" height="59" fill="#63cb5f"/><rect x="757" y="31" width="1" height="59" fill="#60ca60"/><rect x="758" y="31" width="1" height="59" fill="#50c46a"/><rect x="759" y="31" width="1" height="59" fill="#44bf70"/><rect x="760" y="31" width="1" height="59" fill="#40bd72"/><rect x="761" y="31" width="1" height="59" fill="#37b878"/><rect x="762" y="31" width="1" height="59" fill="#26ad81"/><rect x="763" y="31" width="2" height="59" fill="#23a983"/><rect x="765" y="31" width="1" height="59" fill="#2eb37c"/><rect x="766" y="31" width="1" height="59" fill="#4ec36b"/><rect x="767" y="31" width="3" height="59" fill="#58c765"/><rect x="770" y="31" width="1" height="59" fill="#56c667"/><rect x="771" y="31" width="3" height="59" fill="#52c569"/><rect x="774" y="31" width="1" height="59" fill="#54c568"/><rect x="775" y="31" width="1" height="59" fill="#65cb5e"/><rect x="776" y="31" width="1" height="59" fill="#81d34d"/><rect x="777" y="31" width="1" height="59" fill="#89d548"/><rect x="778" y="31" width="1" height="59" fill="#7fd34e"/><rect x="779" y="31" width="1" height="59" fill="#65cb5e"/><rect x="780" y="31" width="4" height="59" fill="#58c765"/><rect x="784" y="31" width="1" height="59" fill="#5cc863"/><rect x="785" y="31" width="1" height="59" fill="#63cb5f"/><rect x="786" y="31" width="1" height="59" fill="#60ca60"/><rect x="787" y="31" width="1" height="59" fill="#4ec36b"/><rect x="788" y="31" width="1" height="59" fill="#58c765"/><rect x="789" y="31" width="1" height="59" fill="#8ed645"/><rect x="790" y="31" width="1" height="59" fill="#7fd34e"/><rect x="791" y="31" width="2" height="59" fill="#70cf57"/><rect x="793" y="31" width="1" height="59" fill="#81d34d"/><rect x="794" y="31" width="1" height="59" fill="#9dd93b"/><rect x="795" y="31" width="1" height="59" fill="#a2da37"/><rect x="796" y="31" width="1" height="59" fill="#8ed645"/><rect x="797" y="31" width="1" height="59" fill="#65cb5e"/><rect x="798" y="31" width="1" height="59" fill="#58c765"/><rect x="799" y="31" width="1" height="59" fill="#56c667"/><rect x="800" y="31" width="1" height="59" fill="#54c568"/><rect x="801" y="31" width="9" height="59" fill="#52c569"/></g><g mask="url(#mvg2)"><rect x="530" y="31" width="1" height="229" fill="#31678e"/><rect x="531" y="31" width="1" height="229" fill="#25858e"/><rect x="532" y="31" width="2" height="229" fill="#218f8d"/><rect x="534" y="31" width="1" height="229" fill="#24878e"/><rect x="535" y="31" width="1" height="229" fill="#297a8e"/><rect x="536" y="31" width="3" height="229" fill="#2a768e"/><rect x="539" y="31" width="1" height="229" fill="#2b758e"/><rect x="540" y="31" width="1" height="229" fill="#2c718e"/><rect x="541" y="31" width="1" height="229" fill="#2f6c8e"/><rect x="542" y="31" width="3" height="229" fill="#306a8e"/><rect x="545" y="31" width="1" height="229" fill="#31678e"/><rect x="546" y="31" width="1" height="229" fill="#34608d"/><rect x="547" y="31" width="5" height="229" fill="#355e8d"/><rect x="552" y="31" width="1" height="229" fill="#34608d"/><rect x="553" y="31" width="1" height="229" fill="#32658e"/><rect x="554" y="31" width="1" height="229" fill="#31678e"/><rect x="555" y="31" width="1" height="229" fill="#31688e"/><rect x="556" y="31" width="1" height="229" fill="#31678e"/><rect x="557" y="31" width="1" height="229" fill="#32648e"/><rect x="558" y="31" width="1" height="229" fill="#365d8d"/><rect x="559" y="31" width="2" height="229" fill="#375b8d"/><rect x="561" y="31" width="1" height="229" fill="#365d8d"/><rect x="562" y="31" width="1" height="229" fill="#33638d"/><rect x="563" y="31" width="9" height="229" fill="#32658e"/><rect x="572" y="31" width="1" height="229" fill="#31688e"/><rect x="573" y="31" width="1" height="229" fill="#2f6c8e"/><rect x="574" y="31" width="3" height="229" fill="#2e6d8e"/><rect x="577" y="31" width="1" height="229" fill="#2e6e8e"/><rect x="578" y="31" width="1" height="229" fill="#2c718e"/><rect x="579" y="31" width="7" height="229" fill="#2c738e"/><rect x="586" y="31" width="1" height="229" fill="#2c728e"/><rect x="587" y="31" width="1" height="229" fill="#2f6c8e"/><rect x="588" y="31" width="1" height="229" fill="#34608d"/><rect x="589" y="31" width="1" height="229" fill="#355e8d"/><rect x="590" y="31" width="1" height="229" fill="#30698e"/><rect x="591" y="31" width="1" height="229" fill="#26828e"/><rect x="592" y="31" width="1" height="229" fill="#228d8d"/><rect x="593" y="31" width="1" height="229" fill="#238a8d"/><rect x="594" y="31" width="1" height="229" fill="#277e8e"/><rect x="595" y="31" width="6" height="229" fill="#2a788e"/><rect x="601" y="31" width="1" height="229" fill="#2a768e"/><rect x="602" y="31" width="1" height="229" fill="#2d708e"/><rect x="603" y="31" width="1" height="229" fill="#2f6b8e"/><rect x="604" y="31" width="1" height="229" fill="#306a8e"/><rect x="605" y="31" width="1" height="229" fill="#2e6e8e"/><rect x="606" y="31" width="1" height="229" fill="#2a778e"/><rect x="607" y="31" width="1" height="229" fill="#297a8e"/><rect x="608" y="31" width="1" height="229" fill="#2a778e"/><rect x="609" y="31" width="1" height="229" fill="#2c728e"/><rect x="610" y="31" width="3" height="229" fill="#2c718e"/><rect x="613" y="31" width="1" height="229" fill="#2b748e"/><rect x="614" y="31" width="1" height="229" fill="#287c8e"/><rect x="615" y="31" width="1" height="229" fill="#277f8e"/><rect x="616" y="31" width="7" height="229" fill="#27808e"/><rect x="623" y="31" width="1" height="229" fill="#277f8e"/><rect x="624" y="31" width="1" height="229" fill="#297a8e"/><rect x="625" y="31" width="1" height="229" fill="#2c728e"/><rect x="626" y="31" width="3" height="229" fill="#2c718e"/><rect x="629" y="31" width="1" height="229" fill="#2c738e"/><rect x="630" y="31" width="1" height="229" fill="#297a8e"/><rect x="631" y="31" width="8" height="229" fill="#287d8e"/><rect x="639" y="31" width="1" height="229" fill="#287c8e"/><rect x="640" y="31" width="1" height="229" fill="#2c738e"/><rect x="641" y="31" width="1" height="229" fill="#33638d"/></g><g mask="url(#mbg0)"><rect x="67" y="81.0" width="1" height="33.0" fill="#2a768e"/><rect x="68" y="81.0" width="1" height="33.0" fill="#2b758e"/><rect x="69" y="81.0" width="1" height="33.0" fill="#2c718e"/><rect x="70" y="81.0" width="1" height="33.0" fill="#31688e"/><rect x="71" y="81.0" width="1" height="33.0" fill="#2e6f8e"/><rect x="72" y="81.0" width="1" height="33.0" fill="#287d8e"/><rect x="73" y="81.0" width="1" height="33.0" fill="#297a8e"/><rect x="74" y="81.0" width="2" height="33.0" fill="#2a768e"/><rect x="76" y="81.0" width="1" height="33.0" fill="#297b8e"/><rect x="77" y="81.0" width="1" height="33.0" fill="#277e8e"/><rect x="78" y="81.0" width="1" height="33.0" fill="#277f8e"/><rect x="79" y="81.0" width="1" height="33.0" fill="#277e8e"/><rect x="80" y="81.0" width="1" height="33.0" fill="#2a788e"/><rect x="81" y="81.0" width="1" height="33.0" fill="#2c728e"/><rect x="82" y="81.0" width="1" height="33.0" fill="#29798e"/><rect x="83" y="81.0" width="1" height="33.0" fill="#287c8e"/><rect x="84" y="81.0" width="1" height="33.0" fill="#297a8e"/><rect x="85" y="81.0" width="1" height="33.0" fill="#33638d"/><rect x="86" y="81.0" width="2" height="33.0" fill="#46337f"/><rect x="88" y="81.0" width="1" height="33.0" fill="#3c4f8a"/><rect x="89" y="81.0" width="1" height="33.0" fill="#375b8d"/><rect x="90" y="81.0" width="1" height="33.0" fill="#33638d"/><rect x="91" y="81.0" width="1" height="33.0" fill="#34618d"/><rect x="92" y="81.0" width="1" height="33.0" fill="#3c4f8a"/><rect x="93" y="81.0" width="1" height="33.0" fill="#453882"/><rect x="94" y="81.0" width="1" height="33.0" fill="#424086"/><rect x="95" y="81.0" width="1" height="33.0" fill="#39568c"/><rect x="96" y="81.0" width="1" height="33.0" fill="#375b8d"/><rect x="97" y="81.0" width="1" height="33.0" fill="#3b518b"/><rect x="98" y="81.0" width="1" height="33.0" fill="#453581"/><rect x="99" y="81.0" width="1" height="33.0" fill="#482979"/><rect x="100" y="81.0" width="1" height="33.0" fill="#482878"/><rect x="101" y="81.0" width="1" height="33.0" fill="#482173"/><rect x="102" y="81.0" width="1" height="33.0" fill="#481668"/><rect x="103" y="81.0" width="9" height="33.0" fill="#471365"/><rect x="112" y="81.0" width="1" height="33.0" fill="#48186a"/><rect x="113" y="81.0" width="1" height="33.0" fill="#482677"/><rect x="114" y="81.0" width="1" height="33.0" fill="#472c7a"/><rect x="115" y="81.0" width="1" height="33.0" fill="#472f7d"/><rect x="116" y="81.0" width="1" height="33.0" fill="#433d84"/><rect x="117" y="81.0" width="1" height="33.0" fill="#3e4a89"/><rect x="118" y="81.0" width="1" height="33.0" fill="#39568c"/><rect x="119" y="81.0" width="1" height="33.0" fill="#38598c"/><rect x="120" y="81.0" width="1" height="33.0" fill="#39558c"/><rect x="121" y="81.0" width="1" height="33.0" fill="#3f4788"/><rect x="122" y="81.0" width="1" height="33.0" fill="#443b84"/><rect x="123" y="81.0" width="1" height="33.0" fill="#443a83"/><rect x="124" y="81.0" width="1" height="33.0" fill="#453882"/><rect x="125" y="81.0" width="1" height="33.0" fill="#472e7c"/><rect x="126" y="81.0" width="1" height="33.0" fill="#482979"/><rect x="127" y="81.0" width="1" height="33.0" fill="#472a7a"/><rect x="128" y="81.0" width="1" height="33.0" fill="#453581"/><rect x="129" y="81.0" width="1" height="33.0" fill="#423f85"/><rect x="130" y="81.0" width="1" height="33.0" fill="#414287"/><rect x="131" y="81.0" width="1" height="33.0" fill="#3e4c8a"/><rect x="132" y="81.0" width="1" height="33.0" fill="#39568c"/><rect x="133" y="81.0" width="1" height="33.0" fill="#33628d"/><rect x="134" y="81.0" width="1" height="33.0" fill="#2e6e8e"/><rect x="135" y="81.0" width="1" height="33.0" fill="#34608d"/><rect x="136" y="81.0" width="1" height="33.0" fill="#3b518b"/><rect x="137" y="81.0" width="1" height="33.0" fill="#355f8d"/><rect x="138" y="81.0" width="1" height="33.0" fill="#23888e"/><rect x="139" y="81.0" width="1" height="33.0" fill="#1f988b"/><rect x="140" y="81.0" width="1" height="33.0" fill="#2f6b8e"/><rect x="141" y="81.0" width="1" height="33.0" fill="#414487"/><rect x="142" y="81.0" width="1" height="33.0" fill="#39558c"/><rect x="143" y="81.0" width="1" height="33.0" fill="#2a768e"/><rect x="144" y="81.0" width="1" height="33.0" fill="#26828e"/><rect x="145" y="81.0" width="1" height="33.0" fill="#2b748e"/><rect x="146" y="81.0" width="1" height="33.0" fill="#38598c"/><rect x="147" y="81.0" width="2" height="33.0" fill="#3b518b"/><rect x="149" y="81.0" width="1" height="33.0" fill="#453882"/><rect x="150" y="81.0" width="1" height="33.0" fill="#482979"/><rect x="151" y="81.0" width="1" height="33.0" fill="#482677"/><rect x="152" y="81.0" width="1" height="33.0" fill="#481f70"/><rect x="153" y="81.0" width="1" height="33.0" fill="#481c6e"/><rect x="154" y="81.0" width="1" height="33.0" fill="#481d6f"/><rect x="155" y="81.0" width="1" height="33.0" fill="#46307e"/><rect x="156" y="81.0" width="1" height="33.0" fill="#3a538b"/><rect x="157" y="81.0" width="2" height="33.0" fill="#355e8d"/><rect x="159" y="81.0" width="1" height="33.0" fill="#375b8d"/><rect x="160" y="81.0" width="1" height="33.0" fill="#3c4f8a"/><rect x="161" y="81.0" width="1" height="33.0" fill="#3f4788"/><rect x="162" y="81.0" width="1" height="33.0" fill="#404688"/><rect x="163" y="81.0" width="1" height="33.0" fill="#404588"/><rect x="164" y="81.0" width="1" height="33.0" fill="#443983"/><rect x="165" y="81.0" width="1" height="33.0" fill="#46307e"/><rect x="166" y="81.0" width="1" height="33.0" fill="#472f7d"/><rect x="167" y="81.0" width="1" height="33.0" fill="#453781"/><rect x="168" y="81.0" width="1" height="33.0" fill="#3f4889"/><rect x="169" y="81.0" width="1" height="33.0" fill="#3b518b"/><rect x="170" y="81.0" width="1" height="33.0" fill="#3e4a89"/><rect x="171" y="81.0" width="1" height="33.0" fill="#472e7c"/><rect x="172" y="81.0" width="1" height="33.0" fill="#481c6e"/><rect x="173" y="81.0" width="3" height="33.0" fill="#481b6d"/><rect x="176" y="81.0" width="1" height="33.0" fill="#482173"/><rect x="177" y="81.0" width="1" height="33.0" fill="#453781"/><rect x="178" y="81.0" width="1" height="33.0" fill="#443983"/><rect x="179" y="81.0" width="1" height="33.0" fill="#472d7b"/><rect x="180" y="81.0" width="1" height="33.0" fill="#482979"/><rect x="181" y="81.0" width="1" height="33.0" fill="#472e7c"/><rect x="182" y="81.0" width="1" height="33.0" fill="#3f4788"/><rect x="183" y="81.0" width="1" height="33.0" fill="#34618d"/><rect x="184" y="81.0" width="1" height="33.0" fill="#2f6b8e"/><rect x="185" y="81.0" width="1" height="33.0" fill="#31688e"/><rect x="186" y="81.0" width="1" height="33.0" fill="#38598c"/><rect x="187" y="81.0" width="1" height="33.0" fill="#443983"/><rect x="188" y="81.0" width="1" height="33.0" fill="#482071"/><rect x="189" y="81.0" width="4" height="33.0" fill="#481c6e"/><rect x="193" y="81.0" width="1" height="33.0" fill="#481f70"/><rect x="194" y="81.0" width="1" height="33.0" fill="#472f7d"/><rect x="195" y="81.0" width="1" height="33.0" fill="#414287"/><rect x="196" y="81.0" width="1" height="33.0" fill="#424186"/><rect x="197" y="81.0" width="1" height="33.0" fill="#443a83"/><rect x="198" y="81.0" width="4" height="33.0" fill="#453882"/><rect x="202" y="81.0" width="1" height="33.0" fill="#433e85"/><rect x="203" y="81.0" width="1" height="33.0" fill="#3b518b"/><rect x="204" y="81.0" width="1" height="33.0" fill="#375b8d"/><rect x="205" y="81.0" width="1" height="33.0" fill="#365c8d"/><rect x="206" y="81.0" width="1" height="33.0" fill="#375b8d"/><rect x="207" y="81.0" width="1" height="33.0" fill="#3b518b"/><rect x="208" y="81.0" width="1" height="33.0" fill="#443a83"/><rect x="209" y="81.0" width="2" height="33.0" fill="#46327e"/><rect x="211" y="81.0" width="1" height="33.0" fill="#46307e"/><rect x="212" y="81.0" width="1" height="33.0" fill="#472d7b"/><rect x="213" y="81.0" width="4" height="33.0" fill="#472a7a"/><rect x="217" y="81.0" width="1" height="33.0" fill="#472e7c"/><rect x="218" y="81.0" width="1" height="33.0" fill="#443b84"/><rect x="219" y="81.0" width="1" height="33.0" fill="#414487"/><rect x="220" y="81.0" width="1" height="33.0" fill="#3e4989"/><rect x="221" y="81.0" width="1" height="33.0" fill="#3a538b"/><rect x="222" y="81.0" width="1" height="33.0" fill="#38598c"/><rect x="223" y="81.0" width="1" height="33.0" fill="#355e8d"/><rect x="224" y="81.0" width="1" height="33.0" fill="#365c8d"/><rect x="225" y="81.0" width="1" height="33.0" fill="#3c4f8a"/><rect x="226" y="81.0" width="1" height="33.0" fill="#424186"/><rect x="227" y="81.0" width="4" height="33.0" fill="#433e85"/><rect x="231" y="81.0" width="1" height="33.0" fill="#443b84"/><rect x="232" y="81.0" width="1" height="33.0" fill="#453781"/><rect x="233" y="81.0" width="1" height="33.0" fill="#453882"/><rect x="234" y="81.0" width="1" height="33.0" fill="#433e85"/><rect x="235" y="81.0" width="1" height="33.0" fill="#424086"/><rect x="236" y="81.0" width="1" height="33.0" fill="#424186"/><rect x="237" y="81.0" width="1" height="33.0" fill="#3f4889"/><rect x="238" y="81.0" width="1" height="33.0" fill="#3b528b"/><rect x="239" y="81.0" width="1" height="33.0" fill="#3a538b"/><rect x="240" y="81.0" width="1" height="33.0" fill="#3e4989"/><rect x="241" y="81.0" width="1" height="33.0" fill="#433d84"/><rect x="242" y="81.0" width="1" height="33.0" fill="#424186"/><rect x="243" y="81.0" width="1" height="33.0" fill="#3e4989"/><rect x="244" y="81.0" width="1" height="33.0" fill="#3c4f8a"/><rect x="245" y="81.0" width="1" height="33.0" fill="#3a548c"/><rect x="246" y="81.0" width="1" height="33.0" fill="#365d8d"/><rect x="247" y="81.0" width="1" height="33.0" fill="#31678e"/><rect x="248" y="81.0" width="1" height="33.0" fill="#365d8d"/><rect x="249" y="81.0" width="1" height="33.0" fill="#404588"/><rect x="250" y="81.0" width="3" height="33.0" fill="#433e85"/><rect x="253" y="81.0" width="1" height="33.0" fill="#424086"/><rect x="254" y="81.0" width="1" height="33.0" fill="#404588"/><rect x="255" y="81.0" width="1" height="33.0" fill="#3f4788"/><rect x="256" y="81.0" width="1" height="33.0" fill="#3c4f8a"/><rect x="257" y="81.0" width="1" height="33.0" fill="#39558c"/><rect x="258" y="81.0" width="2" height="33.0" fill="#39568c"/><rect x="260" y="81.0" width="1" height="33.0" fill="#3a548c"/><rect x="261" y="81.0" width="1" height="33.0" fill="#3f4788"/><rect x="262" y="81.0" width="1" height="33.0" fill="#453581"/><rect x="263" y="81.0" width="1" height="33.0" fill="#46327e"/><rect x="264" y="81.0" width="1" height="33.0" fill="#46337f"/><rect x="265" y="81.0" width="1" height="33.0" fill="#453882"/><rect x="266" y="81.0" width="1" height="33.0" fill="#433d84"/><rect x="267" y="81.0" width="3" height="33.0" fill="#433e85"/><rect x="270" y="81.0" width="1" height="33.0" fill="#424086"/><rect x="271" y="81.0" width="2" height="33.0" fill="#3f4788"/><rect x="273" y="81.0" width="1" height="33.0" fill="#443b84"/><rect x="274" y="81.0" width="1" height="33.0" fill="#472c7a"/><rect x="275" y="81.0" width="3" height="33.0" fill="#482979"/><rect x="278" y="81.0" width="1" height="33.0" fill="#472a7a"/><rect x="279" y="81.0" width="1" height="33.0" fill="#463480"/><rect x="280" y="81.0" width="1" height="33.0" fill="#424086"/><rect x="281" y="81.0" width="13" height="33.0" fill="#414287"/><rect x="294" y="81.0" width="1" height="33.0" fill="#424186"/><rect x="295" y="81.0" width="1" height="33.0" fill="#463480"/><rect x="296" y="81.0" width="234" height="33.0" fill="#440154"/><rect x="530" y="81.0" width="1" height="33.0" fill="#355e8d"/><rect x="531" y="81.0" width="1" height="33.0" fill="#297a8e"/><rect x="532" y="81.0" width="2" height="33.0" fill="#26828e"/><rect x="534" y="81.0" width="1" height="33.0" fill="#287c8e"/><rect x="535" y="81.0" width="1" height="33.0" fill="#2d708e"/><rect x="536" y="81.0" width="4" height="33.0" fill="#2f6c8e"/><rect x="540" y="81.0" width="1" height="33.0" fill="#31688e"/><rect x="541" y="81.0" width="1" height="33.0" fill="#33628d"/><rect x="542" y="81.0" width="3" height="33.0" fill="#34618d"/><rect x="545" y="81.0" width="1" height="33.0" fill="#355e8d"/><rect x="546" y="81.0" width="1" height="33.0" fill="#38588c"/><rect x="547" y="81.0" width="5" height="33.0" fill="#39558c"/><rect x="552" y="81.0" width="1" height="33.0" fill="#38588c"/><rect x="553" y="81.0" width="1" height="33.0" fill="#365d8d"/><rect x="554" y="81.0" width="3" height="33.0" fill="#355f8d"/><rect x="557" y="81.0" width="1" height="33.0" fill="#375b8d"/><rect x="558" y="81.0" width="1" height="33.0" fill="#3a548c"/><rect x="559" y="81.0" width="2" height="33.0" fill="#3a538b"/><rect x="561" y="81.0" width="1" height="33.0" fill="#39558c"/><rect x="562" y="81.0" width="1" height="33.0" fill="#375b8d"/><rect x="563" y="81.0" width="9" height="33.0" fill="#365d8d"/><rect x="572" y="81.0" width="1" height="33.0" fill="#355f8d"/><rect x="573" y="81.0" width="1" height="33.0" fill="#33638d"/><rect x="574" y="81.0" width="3" height="33.0" fill="#32648e"/><rect x="577" y="81.0" width="1" height="33.0" fill="#32658e"/><rect x="578" y="81.0" width="1" height="33.0" fill="#30698e"/><rect x="579" y="81.0" width="8" height="33.0" fill="#306a8e"/><rect x="587" y="81.0" width="1" height="33.0" fill="#33638d"/><rect x="588" y="81.0" width="1" height="33.0" fill="#38598c"/><rect x="589" y="81.0" width="1" height="33.0" fill="#39568c"/><rect x="590" y="81.0" width="1" height="33.0" fill="#34608d"/><rect x="591" y="81.0" width="1" height="33.0" fill="#2a788e"/><rect x="592" y="81.0" width="1" height="33.0" fill="#26828e"/><rect x="593" y="81.0" width="1" height="33.0" fill="#277f8e"/><rect x="594" y="81.0" width="1" height="33.0" fill="#2b748e"/><rect x="595" y="81.0" width="6" height="33.0" fill="#2e6f8e"/><rect x="601" y="81.0" width="1" height="33.0" fill="#2e6e8e"/><rect x="602" y="81.0" width="1" height="33.0" fill="#31678e"/><rect x="603" y="81.0" width="2" height="33.0" fill="#33628d"/><rect x="605" y="81.0" width="1" height="33.0" fill="#32658e"/><rect x="606" y="81.0" width="1" height="33.0" fill="#2e6e8e"/><rect x="607" y="81.0" width="1" height="33.0" fill="#2d718e"/><rect x="608" y="81.0" width="1" height="33.0" fill="#2e6e8e"/><rect x="609" y="81.0" width="1" height="33.0" fill="#306a8e"/><rect x="610" y="81.0" width="3" height="33.0" fill="#30698e"/><rect x="613" y="81.0" width="1" height="33.0" fill="#2f6c8e"/><rect x="614" y="81.0" width="1" height="33.0" fill="#2c728e"/><rect x="615" y="81.0" width="9" height="33.0" fill="#2b758e"/><rect x="624" y="81.0" width="1" height="33.0" fill="#2d718e"/><rect x="625" y="81.0" width="1" height="33.0" fill="#306a8e"/><rect x="626" y="81.0" width="3" height="33.0" fill="#30698e"/><rect x="629" y="81.0" width="1" height="33.0" fill="#2f6b8e"/><rect x="630" y="81.0" width="1" height="33.0" fill="#2c718e"/><rect x="631" y="81.0" width="8" height="33.0" fill="#2c738e"/><rect x="639" y="81.0" width="1" height="33.0" fill="#2c728e"/><rect x="640" y="81.0" width="1" height="33.0" fill="#2f6b8e"/><rect x="641" y="81.0" width="1" height="33.0" fill="#365c8d"/><rect x="642" y="81.0" width="1" height="33.0" fill="#355f8d"/><rect x="643" y="81.0" width="1" height="33.0" fill="#2b748e"/><rect x="644" y="81.0" width="1" height="33.0" fill="#1e9d89"/><rect x="645" y="81.0" width="1" height="33.0" fill="#3fbc73"/><rect x="646" y="81.0" width="1" height="33.0" fill="#7fd34e"/><rect x="647" y="81.0" width="1" height="33.0" fill="#89d548"/><rect x="648" y="81.0" width="1" height="33.0" fill="#69cd5b"/><rect x="649" y="81.0" width="1" height="33.0" fill="#2cb17e"/><rect x="650" y="81.0" width="1" height="33.0" fill="#20a386"/><rect x="651" y="81.0" width="1" height="33.0" fill="#1f968b"/><rect x="652" y="81.0" width="1" height="33.0" fill="#238a8d"/><rect x="653" y="81.0" width="1" height="33.0" fill="#25838e"/><rect x="654" y="81.0" width="1" height="33.0" fill="#2b758e"/><rect x="655" y="81.0" width="1" height="33.0" fill="#2c718e"/><rect x="656" y="81.0" width="1" height="33.0" fill="#20928c"/><rect x="657" y="81.0" width="1" height="33.0" fill="#42be71"/><rect x="658" y="81.0" width="1" height="33.0" fill="#5cc863"/><rect x="659" y="81.0" width="1" height="33.0" fill="#7ad151"/><rect x="660" y="81.0" width="1" height="33.0" fill="#81d34d"/><rect x="661" y="81.0" width="1" height="33.0" fill="#40bd72"/><rect x="662" y="81.0" width="1" height="33.0" fill="#1fa187"/><rect x="663" y="81.0" width="1" height="33.0" fill="#218f8d"/><rect x="664" y="81.0" width="4" height="33.0" fill="#24868e"/><rect x="668" y="81.0" width="1" height="33.0" fill="#25838e"/><rect x="669" y="81.0" width="1" height="33.0" fill="#297a8e"/><rect x="670" y="81.0" width="1" height="33.0" fill="#2a778e"/><rect x="671" y="81.0" width="1" height="33.0" fill="#26818e"/><rect x="672" y="81.0" width="1" height="33.0" fill="#218f8d"/><rect x="673" y="81.0" width="1" height="33.0" fill="#1f948c"/><rect x="674" y="81.0" width="1" height="33.0" fill="#1f9f88"/><rect x="675" y="81.0" width="1" height="33.0" fill="#22a785"/><rect x="676" y="81.0" width="1" height="33.0" fill="#27ad81"/><rect x="677" y="81.0" width="1" height="33.0" fill="#29af7f"/><rect x="678" y="81.0" width="1" height="33.0" fill="#22a785"/><rect x="679" y="81.0" width="1" height="33.0" fill="#1f968b"/><rect x="680" y="81.0" width="1" height="33.0" fill="#25ac82"/><rect x="681" y="81.0" width="1" height="33.0" fill="#6ccd5a"/><rect x="682" y="81.0" width="1" height="33.0" fill="#3bbb75"/><rect x="683" y="81.0" width="1" height="33.0" fill="#24878e"/><rect x="684" y="81.0" width="5" height="33.0" fill="#2a788e"/><rect x="689" y="81.0" width="1" height="33.0" fill="#297b8e"/><rect x="690" y="81.0" width="1" height="33.0" fill="#297a8e"/><rect x="691" y="81.0" width="1" height="33.0" fill="#23888e"/><rect x="692" y="81.0" width="1" height="33.0" fill="#20928c"/><rect x="693" y="81.0" width="1" height="33.0" fill="#21a685"/><rect x="694" y="81.0" width="1" height="33.0" fill="#29af7f"/><rect x="695" y="81.0" width="2" height="33.0" fill="#2db27d"/><rect x="697" y="81.0" width="1" height="33.0" fill="#29af7f"/><rect x="698" y="81.0" width="1" height="33.0" fill="#28ae80"/><rect x="699" y="81.0" width="1" height="33.0" fill="#29af7f"/><rect x="700" y="81.0" width="1" height="33.0" fill="#2db27d"/><rect x="701" y="81.0" width="1" height="33.0" fill="#2fb47c"/><rect x="702" y="81.0" width="1" height="33.0" fill="#2db27d"/><rect x="703" y="81.0" width="1" height="33.0" fill="#29af7f"/><rect x="704" y="81.0" width="1" height="33.0" fill="#27ad81"/><rect x="705" y="81.0" width="1" height="33.0" fill="#21a685"/><rect x="706" y="81.0" width="1" height="33.0" fill="#1f998a"/><rect x="707" y="81.0" width="1" height="33.0" fill="#1f9a8a"/><rect x="708" y="81.0" width="1" height="33.0" fill="#2db27d"/><rect x="709" y="81.0" width="1" height="33.0" fill="#50c46a"/><rect x="710" y="81.0" width="1" height="33.0" fill="#4ec36b"/><rect x="711" y="81.0" width="1" height="33.0" fill="#2fb47c"/><rect x="712" y="81.0" width="1" height="33.0" fill="#21a685"/><rect x="713" y="81.0" width="1" height="33.0" fill="#20a486"/><rect x="714" y="81.0" width="1" height="33.0" fill="#1fa188"/><rect x="715" y="81.0" width="1" height="33.0" fill="#228b8d"/><rect x="716" y="81.0" width="1" height="33.0" fill="#25858e"/><rect x="717" y="81.0" width="1" height="33.0" fill="#1f9f88"/><rect x="718" y="81.0" width="1" height="33.0" fill="#25ac82"/><rect x="719" y="81.0" width="1" height="33.0" fill="#218f8d"/><rect x="720" y="81.0" width="1" height="33.0" fill="#20928c"/><rect x="721" y="81.0" width="1" height="33.0" fill="#2cb17e"/><rect x="722" y="81.0" width="1" height="33.0" fill="#27ad81"/><rect x="723" y="81.0" width="1" height="33.0" fill="#29af7f"/><rect x="724" y="81.0" width="1" height="33.0" fill="#40bd72"/><rect x="725" y="81.0" width="1" height="33.0" fill="#44bf70"/><rect x="726" y="81.0" width="1" height="33.0" fill="#37b878"/><rect x="727" y="81.0" width="1" height="33.0" fill="#2eb37c"/><rect x="728" y="81.0" width="2" height="33.0" fill="#2db27d"/><rect x="730" y="81.0" width="1" height="33.0" fill="#28ae80"/><rect x="731" y="81.0" width="1" height="33.0" fill="#20a386"/><rect x="732" y="81.0" width="1" height="33.0" fill="#1fa188"/><rect x="733" y="81.0" width="1" height="33.0" fill="#23a983"/><rect x="734" y="81.0" width="1" height="33.0" fill="#27ad81"/><rect x="735" y="81.0" width="1" height="33.0" fill="#29af7f"/><rect x="736" y="81.0" width="1" height="33.0" fill="#32b67a"/><rect x="737" y="81.0" width="1" height="33.0" fill="#35b779"/><rect x="738" y="81.0" width="1" height="33.0" fill="#28ae80"/><rect x="739" y="81.0" width="2" height="33.0" fill="#22a785"/><rect x="741" y="81.0" width="1" height="33.0" fill="#25ab82"/><rect x="742" y="81.0" width="1" height="33.0" fill="#20a386"/><rect x="743" y="81.0" width="1" height="33.0" fill="#1f948c"/><rect x="744" y="81.0" width="2" height="33.0" fill="#20928c"/><rect x="746" y="81.0" width="1" height="33.0" fill="#1f948c"/><rect x="747" y="81.0" width="1" height="33.0" fill="#1f9f88"/><rect x="748" y="81.0" width="1" height="33.0" fill="#21a585"/><rect x="749" y="81.0" width="1" height="33.0" fill="#21a685"/><rect x="750" y="81.0" width="1" height="33.0" fill="#22a785"/><rect x="751" y="81.0" width="1" height="33.0" fill="#28ae80"/><rect x="752" y="81.0" width="2" height="33.0" fill="#35b779"/><rect x="754" y="81.0" width="1" height="33.0" fill="#29af7f"/><rect x="755" y="81.0" width="1" height="33.0" fill="#25ab82"/><rect x="756" y="81.0" width="1" height="33.0" fill="#24aa83"/><rect x="757" y="81.0" width="1" height="33.0" fill="#23a983"/><rect x="758" y="81.0" width="1" height="33.0" fill="#20a386"/><rect x="759" y="81.0" width="1" height="33.0" fill="#1f9f88"/><rect x="760" y="81.0" width="1" height="33.0" fill="#1f9e89"/><rect x="761" y="81.0" width="1" height="33.0" fill="#1f998a"/><rect x="762" y="81.0" width="1" height="33.0" fill="#218f8d"/><rect x="763" y="81.0" width="2" height="33.0" fill="#228c8d"/><rect x="765" y="81.0" width="1" height="33.0" fill="#1f948c"/><rect x="766" y="81.0" width="1" height="33.0" fill="#1fa287"/><rect x="767" y="81.0" width="3" height="33.0" fill="#21a685"/><rect x="770" y="81.0" width="1" height="33.0" fill="#21a585"/><rect x="771" y="81.0" width="4" height="33.0" fill="#20a486"/><rect x="775" y="81.0" width="1" height="33.0" fill="#25ab82"/><rect x="776" y="81.0" width="1" height="33.0" fill="#2fb47c"/><rect x="777" y="81.0" width="1" height="33.0" fill="#32b67a"/><rect x="778" y="81.0" width="1" height="33.0" fill="#2eb37c"/><rect x="779" y="81.0" width="1" height="33.0" fill="#25ab82"/><rect x="780" y="81.0" width="4" height="33.0" fill="#21a685"/><rect x="784" y="81.0" width="1" height="33.0" fill="#22a884"/><rect x="785" y="81.0" width="1" height="33.0" fill="#24aa83"/><rect x="786" y="81.0" width="1" height="33.0" fill="#23a983"/><rect x="787" y="81.0" width="1" height="33.0" fill="#1fa287"/><rect x="788" y="81.0" width="1" height="33.0" fill="#21a685"/><rect x="789" y="81.0" width="1" height="33.0" fill="#35b779"/><rect x="790" y="81.0" width="1" height="33.0" fill="#2eb37c"/><rect x="791" y="81.0" width="2" height="33.0" fill="#28ae80"/><rect x="793" y="81.0" width="1" height="33.0" fill="#2eb37c"/><rect x="794" y="81.0" width="1" height="33.0" fill="#3bbb75"/><rect x="795" y="81.0" width="1" height="33.0" fill="#3fbc73"/><rect x="796" y="81.0" width="1" height="33.0" fill="#35b779"/><rect x="797" y="81.0" width="1" height="33.0" fill="#25ab82"/><rect x="798" y="81.0" width="2" height="33.0" fill="#21a685"/><rect x="800" y="81.0" width="1" height="33.0" fill="#21a585"/><rect x="801" y="81.0" width="9" height="33.0" fill="#20a486"/></g><g mask="url(#mbg1)"><rect x="67" y="161.0" width="1" height="24.0" fill="#218e8d"/><rect x="68" y="161.0" width="1" height="24.0" fill="#228d8d"/><rect x="69" y="161.0" width="1" height="24.0" fill="#23888e"/><rect x="70" y="161.0" width="1" height="24.0" fill="#287c8e"/><rect x="71" y="161.0" width="1" height="24.0" fill="#25858e"/><rect x="72" y="161.0" width="1" height="24.0" fill="#1f968b"/><rect x="73" y="161.0" width="1" height="24.0" fill="#20928c"/><rect x="74" y="161.0" width="1" height="24.0" fill="#218e8d"/><rect x="75" y="161.0" width="1" height="24.0" fill="#218f8d"/><rect x="76" y="161.0" width="1" height="24.0" fill="#20938c"/><rect x="77" y="161.0" width="1" height="24.0" fill="#1f978b"/><rect x="78" y="161.0" width="1" height="24.0" fill="#1f988b"/><rect x="79" y="161.0" width="1" height="24.0" fill="#1f978b"/><rect x="80" y="161.0" width="1" height="24.0" fill="#21918c"/><rect x="81" y="161.0" width="1" height="24.0" fill="#23898e"/><rect x="82" y="161.0" width="1" height="24.0" fill="#20928c"/><rect x="83" y="161.0" width="1" height="24.0" fill="#1f958b"/><rect x="84" y="161.0" width="1" height="24.0" fill="#20938c"/><rect x="85" y="161.0" width="1" height="24.0" fill="#2a768e"/><rect x="86" y="161.0" width="1" height="24.0" fill="#423f85"/><rect x="87" y="161.0" width="1" height="24.0" fill="#433e85"/><rect x="88" y="161.0" width="1" height="24.0" fill="#355f8d"/><rect x="89" y="161.0" width="1" height="24.0" fill="#2e6d8e"/><rect x="90" y="161.0" width="1" height="24.0" fill="#2d708e"/><rect x="91" y="161.0" width="1" height="24.0" fill="#2e6e8e"/><rect x="92" y="161.0" width="1" height="24.0" fill="#375a8c"/><rect x="93" y="161.0" width="1" height="24.0" fill="#424086"/><rect x="94" y="161.0" width="1" height="24.0" fill="#3e4989"/><rect x="95" y="161.0" width="1" height="24.0" fill="#33628d"/><rect x="96" y="161.0" width="1" height="24.0" fill="#31678e"/><rect x="97" y="161.0" width="1" height="24.0" fill="#365c8d"/><rect x="98" y="161.0" width="1" height="24.0" fill="#433d84"/><rect x="99" y="161.0" width="1" height="24.0" fill="#472f7d"/><rect x="100" y="161.0" width="1" height="24.0" fill="#472e7c"/><rect x="101" y="161.0" width="1" height="24.0" fill="#482677"/><rect x="102" y="161.0" width="1" height="24.0" fill="#481a6c"/><rect x="103" y="161.0" width="9" height="24.0" fill="#481668"/><rect x="112" y="161.0" width="1" height="24.0" fill="#481c6e"/><rect x="113" y="161.0" width="1" height="24.0" fill="#472c7a"/><rect x="114" y="161.0" width="1" height="24.0" fill="#46327e"/><rect x="115" y="161.0" width="1" height="24.0" fill="#453781"/><rect x="116" y="161.0" width="1" height="24.0" fill="#404588"/><rect x="117" y="161.0" width="1" height="24.0" fill="#3a548c"/><rect x="118" y="161.0" width="1" height="24.0" fill="#33628d"/><rect x="119" y="161.0" width="1" height="24.0" fill="#32658e"/><rect x="120" y="161.0" width="1" height="24.0" fill="#34618d"/><rect x="121" y="161.0" width="1" height="24.0" fill="#3b518b"/><rect x="122" y="161.0" width="1" height="24.0" fill="#404588"/><rect x="123" y="161.0" width="1" height="24.0" fill="#414487"/><rect x="124" y="161.0" width="1" height="24.0" fill="#424086"/><rect x="125" y="161.0" width="1" height="24.0" fill="#463480"/><rect x="126" y="161.0" width="1" height="24.0" fill="#472f7d"/><rect x="127" y="161.0" width="1" height="24.0" fill="#46307e"/><rect x="128" y="161.0" width="1" height="24.0" fill="#433d84"/><rect x="129" y="161.0" width="1" height="24.0" fill="#3f4889"/><rect x="130" y="161.0" width="1" height="24.0" fill="#3e4c8a"/><rect x="131" y="161.0" width="1" height="24.0" fill="#39568c"/><rect x="132" y="161.0" width="1" height="24.0" fill="#33628d"/><rect x="133" y="161.0" width="1" height="24.0" fill="#2e6f8e"/><rect x="134" y="161.0" width="1" height="24.0" fill="#287c8e"/><rect x="135" y="161.0" width="1" height="24.0" fill="#2f6c8e"/><rect x="136" y="161.0" width="1" height="24.0" fill="#365d8d"/><rect x="137" y="161.0" width="1" height="24.0" fill="#2f6c8e"/><rect x="138" y="161.0" width="1" height="24.0" fill="#1f9a8a"/><rect x="139" y="161.0" width="1" height="24.0" fill="#26ad81"/><rect x="140" y="161.0" width="1" height="24.0" fill="#2a788e"/><rect x="141" y="161.0" width="1" height="24.0" fill="#3d4d8a"/><rect x="142" y="161.0" width="1" height="24.0" fill="#34618d"/><rect x="143" y="161.0" width="1" height="24.0" fill="#24868e"/><rect x="144" y="161.0" width="1" height="24.0" fill="#1f948c"/><rect x="145" y="161.0" width="1" height="24.0" fill="#25838e"/><rect x="146" y="161.0" width="1" height="24.0" fill="#32648e"/><rect x="147" y="161.0" width="1" height="24.0" fill="#365d8d"/><rect x="148" y="161.0" width="1" height="24.0" fill="#365c8d"/><rect x="149" y="161.0" width="1" height="24.0" fill="#424086"/><rect x="150" y="161.0" width="1" height="24.0" fill="#472f7d"/><rect x="151" y="161.0" width="1" height="24.0" fill="#472c7a"/><rect x="152" y="161.0" width="1" height="24.0" fill="#482475"/><rect x="153" y="161.0" width="1" height="24.0" fill="#482071"/><rect x="154" y="161.0" width="1" height="24.0" fill="#482173"/><rect x="155" y="161.0" width="1" height="24.0" fill="#453781"/><rect x="156" y="161.0" width="1" height="24.0" fill="#355f8d"/><rect x="157" y="161.0" width="1" height="24.0" fill="#306a8e"/><rect x="158" y="161.0" width="1" height="24.0" fill="#2f6b8e"/><rect x="159" y="161.0" width="1" height="24.0" fill="#31678e"/><rect x="160" y="161.0" width="1" height="24.0" fill="#38598c"/><rect x="161" y="161.0" width="1" height="24.0" fill="#3b518b"/><rect x="162" y="161.0" width="1" height="24.0" fill="#3c508b"/><rect x="163" y="161.0" width="1" height="24.0" fill="#3d4e8a"/><rect x="164" y="161.0" width="1" height="24.0" fill="#424186"/><rect x="165" y="161.0" width="2" height="24.0" fill="#453781"/><rect x="167" y="161.0" width="1" height="24.0" fill="#423f85"/><rect x="168" y="161.0" width="1" height="24.0" fill="#3b518b"/><rect x="169" y="161.0" width="1" height="24.0" fill="#365c8d"/><rect x="170" y="161.0" width="1" height="24.0" fill="#3a548c"/><rect x="171" y="161.0" width="1" height="24.0" fill="#463480"/><rect x="172" y="161.0" width="1" height="24.0" fill="#482071"/><rect x="173" y="161.0" width="3" height="24.0" fill="#481f70"/><rect x="176" y="161.0" width="1" height="24.0" fill="#482677"/><rect x="177" y="161.0" width="1" height="24.0" fill="#433e85"/><rect x="178" y="161.0" width="1" height="24.0" fill="#424086"/><rect x="179" y="161.0" width="1" height="24.0" fill="#46337f"/><rect x="180" y="161.0" width="1" height="24.0" fill="#472f7d"/><rect x="181" y="161.0" width="1" height="24.0" fill="#453581"/><rect x="182" y="161.0" width="1" height="24.0" fill="#3b518b"/><rect x="183" y="161.0" width="1" height="24.0" fill="#2e6d8e"/><rect x="184" y="161.0" width="1" height="24.0" fill="#29798e"/><rect x="185" y="161.0" width="1" height="24.0" fill="#2b758e"/><rect x="186" y="161.0" width="1" height="24.0" fill="#32658e"/><rect x="187" y="161.0" width="1" height="24.0" fill="#424186"/><rect x="188" y="161.0" width="1" height="24.0" fill="#482475"/><rect x="189" y="161.0" width="4" height="24.0" fill="#482071"/><rect x="193" y="161.0" width="1" height="24.0" fill="#482374"/><rect x="194" y="161.0" width="1" height="24.0" fill="#453781"/><rect x="195" y="161.0" width="1" height="24.0" fill="#3e4c8a"/><rect x="196" y="161.0" width="1" height="24.0" fill="#3e4a89"/><rect x="197" y="161.0" width="1" height="24.0" fill="#414287"/><rect x="198" y="161.0" width="4" height="24.0" fill="#424086"/><rect x="202" y="161.0" width="1" height="24.0" fill="#404688"/><rect x="203" y="161.0" width="1" height="24.0" fill="#365c8d"/><rect x="204" y="161.0" width="1" height="24.0" fill="#31678e"/><rect x="205" y="161.0" width="1" height="24.0" fill="#31688e"/><rect x="206" y="161.0" width="1" height="24.0" fill="#31678e"/><rect x="207" y="161.0" width="1" height="24.0" fill="#365c8d"/><rect x="208" y="161.0" width="1" height="24.0" fill="#414287"/><rect x="209" y="161.0" width="2" height="24.0" fill="#443983"/><rect x="211" y="161.0" width="1" height="24.0" fill="#453882"/><rect x="212" y="161.0" width="1" height="24.0" fill="#46337f"/><rect x="213" y="161.0" width="4" height="24.0" fill="#46307e"/><rect x="217" y="161.0" width="1" height="24.0" fill="#453581"/><rect x="218" y="161.0" width="1" height="24.0" fill="#414487"/><rect x="219" y="161.0" width="1" height="24.0" fill="#3d4d8a"/><rect x="220" y="161.0" width="1" height="24.0" fill="#3a548c"/><rect x="221" y="161.0" width="1" height="24.0" fill="#355e8d"/><rect x="222" y="161.0" width="1" height="24.0" fill="#32658e"/><rect x="223" y="161.0" width="1" height="24.0" fill="#306a8e"/><rect x="224" y="161.0" width="1" height="24.0" fill="#31688e"/><rect x="225" y="161.0" width="1" height="24.0" fill="#375a8c"/><rect x="226" y="161.0" width="1" height="24.0" fill="#3e4a89"/><rect x="227" y="161.0" width="3" height="24.0" fill="#3f4788"/><rect x="230" y="161.0" width="1" height="24.0" fill="#404688"/><rect x="231" y="161.0" width="1" height="24.0" fill="#414487"/><rect x="232" y="161.0" width="1" height="24.0" fill="#433e85"/><rect x="233" y="161.0" width="1" height="24.0" fill="#424086"/><rect x="234" y="161.0" width="1" height="24.0" fill="#3f4788"/><rect x="235" y="161.0" width="1" height="24.0" fill="#3e4989"/><rect x="236" y="161.0" width="1" height="24.0" fill="#3e4a89"/><rect x="237" y="161.0" width="1" height="24.0" fill="#3b528b"/><rect x="238" y="161.0" width="1" height="24.0" fill="#365d8d"/><rect x="239" y="161.0" width="1" height="24.0" fill="#355e8d"/><rect x="240" y="161.0" width="1" height="24.0" fill="#3a538b"/><rect x="241" y="161.0" width="1" height="24.0" fill="#404688"/><rect x="242" y="161.0" width="1" height="24.0" fill="#3e4a89"/><rect x="243" y="161.0" width="1" height="24.0" fill="#3a538b"/><rect x="244" y="161.0" width="1" height="24.0" fill="#375a8c"/><rect x="245" y="161.0" width="1" height="24.0" fill="#355f8d"/><rect x="246" y="161.0" width="1" height="24.0" fill="#30698e"/><rect x="247" y="161.0" width="1" height="24.0" fill="#2b748e"/><rect x="248" y="161.0" width="1" height="24.0" fill="#30698e"/><rect x="249" y="161.0" width="1" height="24.0" fill="#3c4f8a"/><rect x="250" y="161.0" width="3" height="24.0" fill="#3f4788"/><rect x="253" y="161.0" width="1" height="24.0" fill="#3f4889"/><rect x="254" y="161.0" width="1" height="24.0" fill="#3d4e8a"/><rect x="255" y="161.0" width="1" height="24.0" fill="#3b518b"/><rect x="256" y="161.0" width="1" height="24.0" fill="#375a8c"/><rect x="257" y="161.0" width="1" height="24.0" fill="#34618d"/><rect x="258" y="161.0" width="2" height="24.0" fill="#33628d"/><rect x="260" y="161.0" width="1" height="24.0" fill="#34608d"/><rect x="261" y="161.0" width="1" height="24.0" fill="#3b518b"/><rect x="262" y="161.0" width="1" height="24.0" fill="#433d84"/><rect x="263" y="161.0" width="1" height="24.0" fill="#443983"/><rect x="264" y="161.0" width="1" height="24.0" fill="#443a83"/><rect x="265" y="161.0" width="1" height="24.0" fill="#424086"/><rect x="266" y="161.0" width="1" height="24.0" fill="#404688"/><rect x="267" y="161.0" width="3" height="24.0" fill="#3f4788"/><rect x="270" y="161.0" width="1" height="24.0" fill="#3e4989"/><rect x="271" y="161.0" width="1" height="24.0" fill="#3c508b"/><rect x="272" y="161.0" width="1" height="24.0" fill="#3b518b"/><rect x="273" y="161.0" width="1" height="24.0" fill="#414487"/><rect x="274" y="161.0" width="1" height="24.0" fill="#46327e"/><rect x="275" y="161.0" width="3" height="24.0" fill="#472f7d"/><rect x="278" y="161.0" width="1" height="24.0" fill="#46307e"/><rect x="279" y="161.0" width="1" height="24.0" fill="#443b84"/><rect x="280" y="161.0" width="1" height="24.0" fill="#3e4989"/><rect x="281" y="161.0" width="13" height="24.0" fill="#3e4c8a"/><rect x="294" y="161.0" width="1" height="24.0" fill="#3e4a89"/><rect x="295" y="161.0" width="1" height="24.0" fill="#433d84"/><rect x="296" y="161.0" width="234" height="24.0" fill="#440154"/><rect x="530" y="161.0" width="1" height="24.0" fill="#2e6e8e"/><rect x="531" y="161.0" width="1" height="24.0" fill="#218f8d"/><rect x="532" y="161.0" width="2" height="24.0" fill="#1f998a"/><rect x="534" y="161.0" width="1" height="24.0" fill="#21918c"/><rect x="535" y="161.0" width="1" height="24.0" fill="#26828e"/><rect x="536" y="161.0" width="4" height="24.0" fill="#277e8e"/><rect x="540" y="161.0" width="1" height="24.0" fill="#29798e"/><rect x="541" y="161.0" width="1" height="24.0" fill="#2c728e"/><rect x="542" y="161.0" width="2" height="24.0" fill="#2c718e"/><rect x="544" y="161.0" width="1" height="24.0" fill="#2d718e"/><rect x="545" y="161.0" width="1" height="24.0" fill="#2e6e8e"/><rect x="546" y="161.0" width="1" height="24.0" fill="#31678e"/><rect x="547" y="161.0" width="5" height="24.0" fill="#32648e"/><rect x="552" y="161.0" width="1" height="24.0" fill="#31668e"/><rect x="553" y="161.0" width="1" height="24.0" fill="#2f6c8e"/><rect x="554" y="161.0" width="2" height="24.0" fill="#2e6f8e"/><rect x="556" y="161.0" width="1" height="24.0" fill="#2e6e8e"/><rect x="557" y="161.0" width="1" height="24.0" fill="#306a8e"/><rect x="558" y="161.0" width="1" height="24.0" fill="#33638d"/><rect x="559" y="161.0" width="2" height="24.0" fill="#34618d"/><rect x="561" y="161.0" width="1" height="24.0" fill="#32648e"/><rect x="562" y="161.0" width="1" height="24.0" fill="#306a8e"/><rect x="563" y="161.0" width="9" height="24.0" fill="#2f6c8e"/><rect x="572" y="161.0" width="1" height="24.0" fill="#2e6f8e"/><rect x="573" y="161.0" width="1" height="24.0" fill="#2c728e"/><rect x="574" y="161.0" width="3" height="24.0" fill="#2c738e"/><rect x="577" y="161.0" width="1" height="24.0" fill="#2b758e"/><rect x="578" y="161.0" width="1" height="24.0" fill="#297a8e"/><rect x="579" y="161.0" width="8" height="24.0" fill="#297b8e"/><rect x="587" y="161.0" width="1" height="24.0" fill="#2c728e"/><rect x="588" y="161.0" width="1" height="24.0" fill="#31678e"/><rect x="589" y="161.0" width="1" height="24.0" fill="#32658e"/><rect x="590" y="161.0" width="1" height="24.0" fill="#2d708e"/><rect x="591" y="161.0" width="1" height="24.0" fill="#228c8d"/><rect x="592" y="161.0" width="1" height="24.0" fill="#1f968b"/><rect x="593" y="161.0" width="1" height="24.0" fill="#20938c"/><rect x="594" y="161.0" width="1" height="24.0" fill="#24878e"/><rect x="595" y="161.0" width="6" height="24.0" fill="#26818e"/><rect x="601" y="161.0" width="1" height="24.0" fill="#277f8e"/><rect x="602" y="161.0" width="1" height="24.0" fill="#2a778e"/><rect x="603" y="161.0" width="2" height="24.0" fill="#2c718e"/><rect x="605" y="161.0" width="1" height="24.0" fill="#2b758e"/><rect x="606" y="161.0" width="1" height="24.0" fill="#277f8e"/><rect x="607" y="161.0" width="1" height="24.0" fill="#26828e"/><rect x="608" y="161.0" width="1" height="24.0" fill="#277f8e"/><rect x="609" y="161.0" width="1" height="24.0" fill="#297a8e"/><rect x="610" y="161.0" width="3" height="24.0" fill="#29798e"/><rect x="613" y="161.0" width="1" height="24.0" fill="#287c8e"/><rect x="614" y="161.0" width="1" height="24.0" fill="#25848e"/><rect x="615" y="161.0" width="8" height="24.0" fill="#23888e"/><rect x="623" y="161.0" width="1" height="24.0" fill="#24878e"/><rect x="624" y="161.0" width="1" height="24.0" fill="#26828e"/><rect x="625" y="161.0" width="1" height="24.0" fill="#297b8e"/><rect x="626" y="161.0" width="3" height="24.0" fill="#29798e"/><rect x="629" y="161.0" width="1" height="24.0" fill="#287c8e"/><rect x="630" y="161.0" width="1" height="24.0" fill="#26828e"/><rect x="631" y="161.0" width="8" height="24.0" fill="#25858e"/><rect x="639" y="161.0" width="1" height="24.0" fill="#25848e"/><rect x="640" y="161.0" width="1" height="24.0" fill="#297b8e"/><rect x="641" y="161.0" width="2" height="24.0" fill="#306a8e"/><rect x="643" y="161.0" width="1" height="24.0" fill="#26828e"/><rect x="644" y="161.0" width="1" height="24.0" fill="#29af7f"/><rect x="645" y="161.0" width="1" height="24.0" fill="#73d056"/><rect x="646" y="161.0" width="1" height="24.0" fill="#cae11f"/><rect x="647" y="161.0" width="1" height="24.0" fill="#d8e219"/><rect x="648" y="161.0" width="1" height="24.0" fill="#b0dd2f"/><rect x="649" y="161.0" width="1" height="24.0" fill="#52c569"/><rect x="650" y="161.0" width="1" height="24.0" fill="#34b679"/><rect x="651" y="161.0" width="1" height="24.0" fill="#22a884"/><rect x="652" y="161.0" width="1" height="24.0" fill="#1f9a8a"/><rect x="653" y="161.0" width="1" height="24.0" fill="#20928c"/><rect x="654" y="161.0" width="1" height="24.0" fill="#26828e"/><rect x="655" y="161.0" width="1" height="24.0" fill="#277f8e"/><rect x="656" y="161.0" width="1" height="24.0" fill="#1fa287"/><rect x="657" y="161.0" width="1" height="24.0" fill="#77d153"/><rect x="658" y="161.0" width="1" height="24.0" fill="#a0da39"/><rect x="659" y="161.0" width="1" height="24.0" fill="#c5e021"/><rect x="660" y="161.0" width="1" height="24.0" fill="#d0e11c"/><rect x="661" y="161.0" width="1" height="24.0" fill="#75d054"/><rect x="662" y="161.0" width="1" height="24.0" fill="#31b57b"/><rect x="663" y="161.0" width="1" height="24.0" fill="#1f9f88"/><rect x="664" y="161.0" width="1" height="24.0" fill="#1f968b"/><rect x="665" y="161.0" width="3" height="24.0" fill="#1f958b"/><rect x="668" y="161.0" width="1" height="24.0" fill="#20928c"/><rect x="669" y="161.0" width="1" height="24.0" fill="#23888e"/><rect x="670" y="161.0" width="1" height="24.0" fill="#25848e"/><rect x="671" y="161.0" width="1" height="24.0" fill="#218f8d"/><rect x="672" y="161.0" width="1" height="24.0" fill="#1fa088"/><rect x="673" y="161.0" width="1" height="24.0" fill="#21a685"/><rect x="674" y="161.0" width="1" height="24.0" fill="#2cb17e"/><rect x="675" y="161.0" width="1" height="24.0" fill="#3aba76"/><rect x="676" y="161.0" width="1" height="24.0" fill="#48c16e"/><rect x="677" y="161.0" width="1" height="24.0" fill="#4cc26c"/><rect x="678" y="161.0" width="1" height="24.0" fill="#3bbb75"/><rect x="679" y="161.0" width="1" height="24.0" fill="#22a884"/><rect x="680" y="161.0" width="1" height="24.0" fill="#42be71"/><rect x="681" y="161.0" width="1" height="24.0" fill="#b2dd2d"/><rect x="682" y="161.0" width="1" height="24.0" fill="#6ccd5a"/><rect x="683" y="161.0" width="1" height="24.0" fill="#1f968b"/><rect x="684" y="161.0" width="1" height="24.0" fill="#24868e"/><rect x="685" y="161.0" width="4" height="24.0" fill="#25858e"/><rect x="689" y="161.0" width="1" height="24.0" fill="#23888e"/><rect x="690" y="161.0" width="1" height="24.0" fill="#1f948c"/><rect x="691" y="161.0" width="1" height="24.0" fill="#21a585"/><rect x="692" y="161.0" width="1" height="24.0" fill="#2db27d"/><rect x="693" y="161.0" width="1" height="24.0" fill="#5cc863"/><rect x="694" y="161.0" width="1" height="24.0" fill="#77d153"/><rect x="695" y="161.0" width="2" height="24.0" fill="#84d44b"/><rect x="697" y="161.0" width="1" height="24.0" fill="#77d153"/><rect x="698" y="161.0" width="1" height="24.0" fill="#75d054"/><rect x="699" y="161.0" width="1" height="24.0" fill="#77d153"/><rect x="700" y="161.0" width="1" height="24.0" fill="#84d44b"/><rect x="701" y="161.0" width="1" height="24.0" fill="#89d548"/><rect x="702" y="161.0" width="1" height="24.0" fill="#84d44b"/><rect x="703" y="161.0" width="1" height="24.0" fill="#77d153"/><rect x="704" y="161.0" width="1" height="24.0" fill="#73d056"/><rect x="705" y="161.0" width="1" height="24.0" fill="#5cc863"/><rect x="706" y="161.0" width="1" height="24.0" fill="#3bbb75"/><rect x="707" y="161.0" width="1" height="24.0" fill="#3dbc74"/><rect x="708" y="161.0" width="1" height="24.0" fill="#81d34d"/><rect x="709" y="161.0" width="1" height="24.0" fill="#c8e020"/><rect x="710" y="161.0" width="1" height="24.0" fill="#c5e021"/><rect x="711" y="161.0" width="1" height="24.0" fill="#89d548"/><rect x="712" y="161.0" width="1" height="24.0" fill="#5ac864"/><rect x="713" y="161.0" width="1" height="24.0" fill="#56c667"/><rect x="714" y="161.0" width="1" height="24.0" fill="#4cc26c"/><rect x="715" y="161.0" width="1" height="24.0" fill="#23a983"/><rect x="716" y="161.0" width="1" height="24.0" fill="#1fa187"/><rect x="717" y="161.0" width="1" height="24.0" fill="#48c16e"/><rect x="718" y="161.0" width="1" height="24.0" fill="#6ccd5a"/><rect x="719" y="161.0" width="1" height="24.0" fill="#28ae80"/><rect x="720" y="161.0" width="1" height="24.0" fill="#2cb17e"/><rect x="721" y="161.0" width="1" height="24.0" fill="#7fd34e"/><rect x="722" y="161.0" width="1" height="24.0" fill="#73d056"/><rect x="723" y="161.0" width="1" height="24.0" fill="#7ad151"/><rect x="724" y="161.0" width="1" height="24.0" fill="#aadc32"/><rect x="725" y="161.0" width="1" height="24.0" fill="#b5de2b"/><rect x="726" y="161.0" width="1" height="24.0" fill="#9bd93c"/><rect x="727" y="161.0" width="1" height="24.0" fill="#84d44b"/><rect x="728" y="161.0" width="2" height="24.0" fill="#81d34d"/><rect x="730" y="161.0" width="1" height="24.0" fill="#75d054"/><rect x="731" y="161.0" width="1" height="24.0" fill="#54c568"/><rect x="732" y="161.0" width="1" height="24.0" fill="#4cc26c"/><rect x="733" y="161.0" width="1" height="24.0" fill="#63cb5f"/><rect x="734" y="161.0" width="1" height="24.0" fill="#73d056"/><rect x="735" y="161.0" width="1" height="24.0" fill="#7ad151"/><rect x="736" y="161.0" width="1" height="24.0" fill="#90d743"/><rect x="737" y="161.0" width="1" height="24.0" fill="#95d840"/><rect x="738" y="161.0" width="1" height="24.0" fill="#77d153"/><rect x="739" y="161.0" width="2" height="24.0" fill="#5ec962"/><rect x="741" y="161.0" width="1" height="24.0" fill="#6ccd5a"/><rect x="742" y="161.0" width="1" height="24.0" fill="#54c568"/><rect x="743" y="161.0" width="1" height="24.0" fill="#31b57b"/><rect x="744" y="161.0" width="2" height="24.0" fill="#2cb17e"/><rect x="746" y="161.0" width="1" height="24.0" fill="#2fb47c"/><rect x="747" y="161.0" width="1" height="24.0" fill="#46c06f"/><rect x="748" y="161.0" width="1" height="24.0" fill="#5ac864"/><rect x="749" y="161.0" width="1" height="24.0" fill="#5cc863"/><rect x="750" y="161.0" width="1" height="24.0" fill="#5ec962"/><rect x="751" y="161.0" width="1" height="24.0" fill="#77d153"/><rect x="752" y="161.0" width="2" height="24.0" fill="#95d840"/><rect x="754" y="161.0" width="1" height="24.0" fill="#77d153"/><rect x="755" y="161.0" width="1" height="24.0" fill="#69cd5b"/><rect x="756" y="161.0" width="1" height="24.0" fill="#67cc5c"/><rect x="757" y="161.0" width="1" height="24.0" fill="#65cb5e"/><rect x="758" y="161.0" width="1" height="24.0" fill="#54c568"/><rect x="759" y="161.0" width="1" height="24.0" fill="#48c16e"/><rect x="760" y="161.0" width="1" height="24.0" fill="#44bf70"/><rect x="761" y="161.0" width="1" height="24.0" fill="#3aba76"/><rect x="762" y="161.0" width="1" height="24.0" fill="#28ae80"/><rect x="763" y="161.0" width="1" height="24.0" fill="#24aa83"/><rect x="764" y="161.0" width="1" height="24.0" fill="#25ab82"/><rect x="765" y="161.0" width="1" height="24.0" fill="#31b57b"/><rect x="766" y="161.0" width="1" height="24.0" fill="#50c46a"/><rect x="767" y="161.0" width="1" height="24.0" fill="#5ac864"/><rect x="768" y="161.0" width="2" height="24.0" fill="#5cc863"/><rect x="770" y="161.0" width="1" height="24.0" fill="#5ac864"/><rect x="771" y="161.0" width="3" height="24.0" fill="#56c667"/><rect x="774" y="161.0" width="1" height="24.0" fill="#58c765"/><rect x="775" y="161.0" width="1" height="24.0" fill="#69cd5b"/><rect x="776" y="161.0" width="1" height="24.0" fill="#89d548"/><rect x="777" y="161.0" width="1" height="24.0" fill="#8ed645"/><rect x="778" y="161.0" width="1" height="24.0" fill="#84d44b"/><rect x="779" y="161.0" width="1" height="24.0" fill="#69cd5b"/><rect x="780" y="161.0" width="4" height="24.0" fill="#5cc863"/><rect x="784" y="161.0" width="1" height="24.0" fill="#60ca60"/><rect x="785" y="161.0" width="1" height="24.0" fill="#67cc5c"/><rect x="786" y="161.0" width="1" height="24.0" fill="#65cb5e"/><rect x="787" y="161.0" width="1" height="24.0" fill="#52c569"/><rect x="788" y="161.0" width="1" height="24.0" fill="#5cc863"/><rect x="789" y="161.0" width="1" height="24.0" fill="#95d840"/><rect x="790" y="161.0" width="1" height="24.0" fill="#84d44b"/><rect x="791" y="161.0" width="2" height="24.0" fill="#75d054"/><rect x="793" y="161.0" width="1" height="24.0" fill="#86d549"/><rect x="794" y="161.0" width="1" height="24.0" fill="#a2da37"/><rect x="795" y="161.0" width="1" height="24.0" fill="#aadc32"/><rect x="796" y="161.0" width="1" height="24.0" fill="#93d741"/><rect x="797" y="161.0" width="1" height="24.0" fill="#69cd5b"/><rect x="798" y="161.0" width="1" height="24.0" fill="#5cc863"/><rect x="799" y="161.0" width="1" height="24.0" fill="#5ac864"/><rect x="800" y="161.0" width="1" height="24.0" fill="#58c765"/><rect x="801" y="161.0" width="9" height="24.0" fill="#56c667"/></g><g mask="url(#mbg2)"><rect x="67" y="310.5" width="1" height="21.0" fill="#218e8d"/><rect x="68" y="310.5" width="1" height="21.0" fill="#228d8d"/><rect x="69" y="310.5" width="1" height="21.0" fill="#23888e"/><rect x="70" y="310.5" width="1" height="21.0" fill="#287c8e"/><rect x="71" y="310.5" width="1" height="21.0" fill="#25858e"/><rect x="72" y="310.5" width="1" height="21.0" fill="#1f978b"/><rect x="73" y="310.5" width="1" height="21.0" fill="#20928c"/><rect x="74" y="310.5" width="1" height="21.0" fill="#218e8d"/><rect x="75" y="310.5" width="1" height="21.0" fill="#218f8d"/><rect x="76" y="310.5" width="1" height="21.0" fill="#20938c"/><rect x="77" y="310.5" width="3" height="21.0" fill="#1f988b"/><rect x="80" y="310.5" width="1" height="21.0" fill="#21918c"/><rect x="81" y="310.5" width="1" height="21.0" fill="#238a8d"/><rect x="82" y="310.5" width="1" height="21.0" fill="#20928c"/><rect x="83" y="310.5" width="1" height="21.0" fill="#1f958b"/><rect x="84" y="310.5" width="1" height="21.0" fill="#20938c"/><rect x="85" y="310.5" width="1" height="21.0" fill="#2a768e"/><rect x="86" y="310.5" width="2" height="21.0" fill="#423f85"/><rect x="88" y="310.5" width="1" height="21.0" fill="#34608d"/><rect x="89" y="310.5" width="1" height="21.0" fill="#2e6e8e"/><rect x="90" y="310.5" width="1" height="21.0" fill="#2d718e"/><rect x="91" y="310.5" width="1" height="21.0" fill="#2e6f8e"/><rect x="92" y="310.5" width="1" height="21.0" fill="#375b8d"/><rect x="93" y="310.5" width="1" height="21.0" fill="#424086"/><rect x="94" y="310.5" width="1" height="21.0" fill="#3e4a89"/><rect x="95" y="310.5" width="1" height="21.0" fill="#33628d"/><rect x="96" y="310.5" width="1" height="21.0" fill="#31688e"/><rect x="97" y="310.5" width="1" height="21.0" fill="#365d8d"/><rect x="98" y="310.5" width="1" height="21.0" fill="#433e85"/><rect x="99" y="310.5" width="1" height="21.0" fill="#46307e"/><rect x="100" y="310.5" width="1" height="21.0" fill="#472f7d"/><rect x="101" y="310.5" width="1" height="21.0" fill="#482878"/><rect x="102" y="310.5" width="1" height="21.0" fill="#481b6d"/><rect x="103" y="310.5" width="9" height="21.0" fill="#481769"/><rect x="112" y="310.5" width="1" height="21.0" fill="#481d6f"/><rect x="113" y="310.5" width="1" height="21.0" fill="#472e7c"/><rect x="114" y="310.5" width="1" height="21.0" fill="#463480"/><rect x="115" y="310.5" width="1" height="21.0" fill="#453882"/><rect x="116" y="310.5" width="1" height="21.0" fill="#3f4788"/><rect x="117" y="310.5" width="1" height="21.0" fill="#39568c"/><rect x="118" y="310.5" width="1" height="21.0" fill="#33638d"/><rect x="119" y="310.5" width="1" height="21.0" fill="#31668e"/><rect x="120" y="310.5" width="1" height="21.0" fill="#33638d"/><rect x="121" y="310.5" width="1" height="21.0" fill="#3b528b"/><rect x="122" y="310.5" width="1" height="21.0" fill="#404688"/><rect x="123" y="310.5" width="1" height="21.0" fill="#404588"/><rect x="124" y="310.5" width="1" height="21.0" fill="#424186"/><rect x="125" y="310.5" width="1" height="21.0" fill="#453781"/><rect x="126" y="310.5" width="1" height="21.0" fill="#46327e"/><rect x="127" y="310.5" width="1" height="21.0" fill="#46337f"/><rect x="128" y="310.5" width="1" height="21.0" fill="#423f85"/><rect x="129" y="310.5" width="1" height="21.0" fill="#3e4a89"/><rect x="130" y="310.5" width="1" height="21.0" fill="#3d4e8a"/><rect x="131" y="310.5" width="1" height="21.0" fill="#38598c"/><rect x="132" y="310.5" width="1" height="21.0" fill="#32648e"/><rect x="133" y="310.5" width="1" height="21.0" fill="#2d718e"/><rect x="134" y="310.5" width="1" height="21.0" fill="#277e8e"/><rect x="135" y="310.5" width="1" height="21.0" fill="#2e6e8e"/><rect x="136" y="310.5" width="1" height="21.0" fill="#355f8d"/><rect x="137" y="310.5" width="1" height="21.0" fill="#2e6e8e"/><rect x="138" y="310.5" width="1" height="21.0" fill="#1e9c89"/><rect x="139" y="310.5" width="1" height="21.0" fill="#28ae80"/><rect x="140" y="310.5" width="1" height="21.0" fill="#297a8e"/><rect x="141" y="310.5" width="1" height="21.0" fill="#3c4f8a"/><rect x="142" y="310.5" width="1" height="21.0" fill="#33638d"/><rect x="143" y="310.5" width="1" height="21.0" fill="#23888e"/><rect x="144" y="310.5" width="1" height="21.0" fill="#1f968b"/><rect x="145" y="310.5" width="1" height="21.0" fill="#24868e"/><rect x="146" y="310.5" width="1" height="21.0" fill="#31668e"/><rect x="147" y="310.5" width="1" height="21.0" fill="#355f8d"/><rect x="148" y="310.5" width="1" height="21.0" fill="#355e8d"/><rect x="149" y="310.5" width="1" height="21.0" fill="#414287"/><rect x="150" y="310.5" width="1" height="21.0" fill="#46337f"/><rect x="151" y="310.5" width="1" height="21.0" fill="#472e7c"/><rect x="152" y="310.5" width="1" height="21.0" fill="#482677"/><rect x="153" y="310.5" width="1" height="21.0" fill="#482475"/><rect x="154" y="310.5" width="1" height="21.0" fill="#482576"/><rect x="155" y="310.5" width="1" height="21.0" fill="#443a83"/><rect x="156" y="310.5" width="1" height="21.0" fill="#34618d"/><rect x="157" y="310.5" width="2" height="21.0" fill="#2e6d8e"/><rect x="159" y="310.5" width="1" height="21.0" fill="#306a8e"/><rect x="160" y="310.5" width="1" height="21.0" fill="#365c8d"/><rect x="161" y="310.5" width="2" height="21.0" fill="#3a538b"/><rect x="163" y="310.5" width="1" height="21.0" fill="#3b518b"/><rect x="164" y="310.5" width="1" height="21.0" fill="#404588"/><rect x="165" y="310.5" width="2" height="21.0" fill="#443a83"/><rect x="167" y="310.5" width="1" height="21.0" fill="#414287"/><rect x="168" y="310.5" width="1" height="21.0" fill="#3a548c"/><rect x="169" y="310.5" width="1" height="21.0" fill="#355f8d"/><rect x="170" y="310.5" width="1" height="21.0" fill="#38588c"/><rect x="171" y="310.5" width="1" height="21.0" fill="#453882"/><rect x="172" y="310.5" width="1" height="21.0" fill="#482475"/><rect x="173" y="310.5" width="3" height="21.0" fill="#482374"/><rect x="176" y="310.5" width="1" height="21.0" fill="#472a7a"/><rect x="177" y="310.5" width="1" height="21.0" fill="#424186"/><rect x="178" y="310.5" width="1" height="21.0" fill="#414487"/><rect x="179" y="310.5" width="1" height="21.0" fill="#453781"/><rect x="180" y="310.5" width="1" height="21.0" fill="#46337f"/><rect x="181" y="310.5" width="1" height="21.0" fill="#443983"/><rect x="182" y="310.5" width="1" height="21.0" fill="#39558c"/><rect x="183" y="310.5" width="1" height="21.0" fill="#2d718e"/><rect x="184" y="310.5" width="1" height="21.0" fill="#287c8e"/><rect x="185" y="310.5" width="1" height="21.0" fill="#29798e"/><rect x="186" y="310.5" width="1" height="21.0" fill="#31688e"/><rect x="187" y="310.5" width="1" height="21.0" fill="#404588"/><rect x="188" y="310.5" width="1" height="21.0" fill="#482979"/><rect x="189" y="310.5" width="4" height="21.0" fill="#482576"/><rect x="193" y="310.5" width="1" height="21.0" fill="#482878"/><rect x="194" y="310.5" width="1" height="21.0" fill="#443a83"/><rect x="195" y="310.5" width="1" height="21.0" fill="#3c508b"/><rect x="196" y="310.5" width="1" height="21.0" fill="#3c4f8a"/><rect x="197" y="310.5" width="1" height="21.0" fill="#3f4788"/><rect x="198" y="310.5" width="4" height="21.0" fill="#404588"/><rect x="202" y="310.5" width="1" height="21.0" fill="#3e4a89"/><rect x="203" y="310.5" width="1" height="21.0" fill="#34608d"/><rect x="204" y="310.5" width="1" height="21.0" fill="#2f6b8e"/><rect x="205" y="310.5" width="1" height="21.0" fill="#2f6c8e"/><rect x="206" y="310.5" width="1" height="21.0" fill="#2f6b8e"/><rect x="207" y="310.5" width="1" height="21.0" fill="#34608d"/><rect x="208" y="310.5" width="1" height="21.0" fill="#3f4788"/><rect x="209" y="310.5" width="2" height="21.0" fill="#433e85"/><rect x="211" y="310.5" width="1" height="21.0" fill="#433d84"/><rect x="212" y="310.5" width="1" height="21.0" fill="#453882"/><rect x="213" y="310.5" width="4" height="21.0" fill="#453581"/><rect x="217" y="310.5" width="1" height="21.0" fill="#443a83"/><rect x="218" y="310.5" width="1" height="21.0" fill="#3e4989"/><rect x="219" y="310.5" width="1" height="21.0" fill="#3b518b"/><rect x="220" y="310.5" width="1" height="21.0" fill="#365d8d"/><rect x="221" y="310.5" width="1" height="21.0" fill="#31678e"/><rect x="222" y="310.5" width="1" height="21.0" fill="#2e6e8e"/><rect x="223" y="310.5" width="1" height="21.0" fill="#2c728e"/><rect x="224" y="310.5" width="1" height="21.0" fill="#2d708e"/><rect x="225" y="310.5" width="1" height="21.0" fill="#33638d"/><rect x="226" y="310.5" width="1" height="21.0" fill="#3a548c"/><rect x="227" y="310.5" width="3" height="21.0" fill="#3b518b"/><rect x="230" y="310.5" width="1" height="21.0" fill="#3c508b"/><rect x="231" y="310.5" width="1" height="21.0" fill="#3d4e8a"/><rect x="232" y="310.5" width="1" height="21.0" fill="#3e4989"/><rect x="233" y="310.5" width="1" height="21.0" fill="#3e4a89"/><rect x="234" y="310.5" width="1" height="21.0" fill="#3b518b"/><rect x="235" y="310.5" width="1" height="21.0" fill="#3a548c"/><rect x="236" y="310.5" width="1" height="21.0" fill="#39558c"/><rect x="237" y="310.5" width="1" height="21.0" fill="#365d8d"/><rect x="238" y="310.5" width="1" height="21.0" fill="#31678e"/><rect x="239" y="310.5" width="1" height="21.0" fill="#31688e"/><rect x="240" y="310.5" width="1" height="21.0" fill="#355e8d"/><rect x="241" y="310.5" width="1" height="21.0" fill="#3c508b"/><rect x="242" y="310.5" width="1" height="21.0" fill="#39558c"/><rect x="243" y="310.5" width="1" height="21.0" fill="#355e8d"/><rect x="244" y="310.5" width="1" height="21.0" fill="#32648e"/><rect x="245" y="310.5" width="1" height="21.0" fill="#30698e"/><rect x="246" y="310.5" width="1" height="21.0" fill="#2c728e"/><rect x="247" y="310.5" width="1" height="21.0" fill="#277e8e"/><rect x="248" y="310.5" width="1" height="21.0" fill="#2c728e"/><rect x="249" y="310.5" width="1" height="21.0" fill="#375a8c"/><rect x="250" y="310.5" width="3" height="21.0" fill="#3b528b"/><rect x="253" y="310.5" width="1" height="21.0" fill="#3a548c"/><rect x="254" y="310.5" width="1" height="21.0" fill="#375a8c"/><rect x="255" y="310.5" width="1" height="21.0" fill="#365d8d"/><rect x="256" y="310.5" width="1" height="21.0" fill="#32648e"/><rect x="257" y="310.5" width="1" height="21.0" fill="#2f6c8e"/><rect x="258" y="310.5" width="2" height="21.0" fill="#2e6d8e"/><rect x="260" y="310.5" width="1" height="21.0" fill="#2f6b8e"/><rect x="261" y="310.5" width="1" height="21.0" fill="#365d8d"/><rect x="262" y="310.5" width="1" height="21.0" fill="#3e4989"/><rect x="263" y="310.5" width="1" height="21.0" fill="#404688"/><rect x="264" y="310.5" width="1" height="21.0" fill="#3f4788"/><rect x="265" y="310.5" width="1" height="21.0" fill="#3d4d8a"/><rect x="266" y="310.5" width="1" height="21.0" fill="#3b528b"/><rect x="267" y="310.5" width="3" height="21.0" fill="#3a538b"/><rect x="270" y="310.5" width="1" height="21.0" fill="#355f8d"/><rect x="271" y="310.5" width="1" height="21.0" fill="#32658e"/><rect x="272" y="310.5" width="1" height="21.0" fill="#31668e"/><rect x="273" y="310.5" width="1" height="21.0" fill="#375a8c"/><rect x="274" y="310.5" width="1" height="21.0" fill="#3e4989"/><rect x="275" y="310.5" width="3" height="21.0" fill="#3f4788"/><rect x="278" y="310.5" width="1" height="21.0" fill="#3f4889"/><rect x="279" y="310.5" width="1" height="21.0" fill="#3b528b"/><rect x="280" y="310.5" width="1" height="21.0" fill="#355f8d"/><rect x="281" y="310.5" width="13" height="21.0" fill="#34618d"/><rect x="294" y="310.5" width="1" height="21.0" fill="#34608d"/><rect x="295" y="310.5" width="1" height="21.0" fill="#3a538b"/><rect x="296" y="310.5" width="234" height="21.0" fill="#440154"/><rect x="530" y="310.5" width="1" height="21.0" fill="#26828e"/><rect x="531" y="310.5" width="1" height="21.0" fill="#20a486"/><rect x="532" y="310.5" width="1" height="21.0" fill="#28ae80"/><rect x="533" y="310.5" width="1" height="21.0" fill="#29af7f"/><rect x="534" y="310.5" width="1" height="21.0" fill="#21a685"/><rect x="535" y="310.5" width="1" height="21.0" fill="#1f978b"/><rect x="536" y="310.5" width="4" height="21.0" fill="#20928c"/><rect x="540" y="310.5" width="1" height="21.0" fill="#218e8d"/><rect x="541" y="310.5" width="1" height="21.0" fill="#24868e"/><rect x="542" y="310.5" width="3" height="21.0" fill="#25858e"/><rect x="545" y="310.5" width="1" height="21.0" fill="#26828e"/><rect x="546" y="310.5" width="1" height="21.0" fill="#297b8e"/><rect x="547" y="310.5" width="1" height="21.0" fill="#2a788e"/><rect x="548" y="310.5" width="4" height="21.0" fill="#2a778e"/><rect x="552" y="310.5" width="1" height="21.0" fill="#297a8e"/><rect x="553" y="310.5" width="1" height="21.0" fill="#27808e"/><rect x="554" y="310.5" width="3" height="21.0" fill="#26828e"/><rect x="557" y="310.5" width="1" height="21.0" fill="#277e8e"/><rect x="558" y="310.5" width="1" height="21.0" fill="#2a768e"/><rect x="559" y="310.5" width="2" height="21.0" fill="#2b748e"/><rect x="561" y="310.5" width="1" height="21.0" fill="#2a778e"/><rect x="562" y="310.5" width="1" height="21.0" fill="#287d8e"/><rect x="563" y="310.5" width="1" height="21.0" fill="#277f8e"/><rect x="564" y="310.5" width="2" height="21.0" fill="#27808e"/><rect x="566" y="310.5" width="5" height="21.0" fill="#277f8e"/><rect x="571" y="310.5" width="1" height="21.0" fill="#27808e"/><rect x="572" y="310.5" width="1" height="21.0" fill="#26828e"/><rect x="573" y="310.5" width="1" height="21.0" fill="#24868e"/><rect x="574" y="310.5" width="3" height="21.0" fill="#24878e"/><rect x="577" y="310.5" width="1" height="21.0" fill="#23898e"/><rect x="578" y="310.5" width="1" height="21.0" fill="#228d8d"/><rect x="579" y="310.5" width="7" height="21.0" fill="#218f8d"/><rect x="586" y="310.5" width="1" height="21.0" fill="#218e8d"/><rect x="587" y="310.5" width="1" height="21.0" fill="#25858e"/><rect x="588" y="310.5" width="1" height="21.0" fill="#29798e"/><rect x="589" y="310.5" width="1" height="21.0" fill="#2a778e"/><rect x="590" y="310.5" width="1" height="21.0" fill="#26828e"/><rect x="591" y="310.5" width="1" height="21.0" fill="#1fa088"/><rect x="592" y="310.5" width="1" height="21.0" fill="#25ab82"/><rect x="593" y="310.5" width="1" height="21.0" fill="#22a785"/><rect x="594" y="310.5" width="1" height="21.0" fill="#1e9b8a"/><rect x="595" y="310.5" width="1" height="21.0" fill="#1f948c"/><rect x="596" y="310.5" width="5" height="21.0" fill="#20938c"/><rect x="601" y="310.5" width="1" height="21.0" fill="#20928c"/><rect x="602" y="310.5" width="1" height="21.0" fill="#238a8d"/><rect x="603" y="310.5" width="1" height="21.0" fill="#25848e"/><rect x="604" y="310.5" width="1" height="21.0" fill="#25838e"/><rect x="605" y="310.5" width="1" height="21.0" fill="#23888e"/><rect x="606" y="310.5" width="1" height="21.0" fill="#20928c"/><rect x="607" y="310.5" width="1" height="21.0" fill="#1f958b"/><rect x="608" y="310.5" width="1" height="21.0" fill="#20928c"/><rect x="609" y="310.5" width="1" height="21.0" fill="#228d8d"/><rect x="610" y="310.5" width="3" height="21.0" fill="#228c8d"/><rect x="613" y="310.5" width="1" height="21.0" fill="#218f8d"/><rect x="614" y="310.5" width="1" height="21.0" fill="#1f988b"/><rect x="615" y="310.5" width="9" height="21.0" fill="#1e9b8a"/><rect x="624" y="310.5" width="1" height="21.0" fill="#1f958b"/><rect x="625" y="310.5" width="1" height="21.0" fill="#228d8d"/><rect x="626" y="310.5" width="3" height="21.0" fill="#228b8d"/><rect x="629" y="310.5" width="1" height="21.0" fill="#218e8d"/><rect x="630" y="310.5" width="1" height="21.0" fill="#1f958b"/><rect x="631" y="310.5" width="8" height="21.0" fill="#1f988b"/><rect x="639" y="310.5" width="1" height="21.0" fill="#1f978b"/><rect x="640" y="310.5" width="1" height="21.0" fill="#24878e"/><rect x="641" y="310.5" width="1" height="21.0" fill="#2a768e"/><rect x="642" y="310.5" width="1" height="21.0" fill="#2c728e"/><rect x="643" y="310.5" width="1" height="21.0" fill="#238a8d"/><rect x="644" y="310.5" width="1" height="21.0" fill="#35b779"/><rect x="645" y="310.5" width="1" height="21.0" fill="#89d548"/><rect x="646" y="310.5" width="1" height="21.0" fill="#dfe318"/><rect x="647" y="310.5" width="1" height="21.0" fill="#efe51c"/><rect x="648" y="310.5" width="1" height="21.0" fill="#c5e021"/><rect x="649" y="310.5" width="1" height="21.0" fill="#65cb5e"/><rect x="650" y="310.5" width="1" height="21.0" fill="#40bd72"/><rect x="651" y="310.5" width="1" height="21.0" fill="#29af7f"/><rect x="652" y="310.5" width="1" height="21.0" fill="#1fa187"/><rect x="653" y="310.5" width="1" height="21.0" fill="#1f9a8a"/><rect x="654" y="310.5" width="1" height="21.0" fill="#238a8d"/><rect x="655" y="310.5" width="1" height="21.0" fill="#24868e"/><rect x="656" y="310.5" width="1" height="21.0" fill="#24aa83"/><rect x="657" y="310.5" width="1" height="21.0" fill="#8bd646"/><rect x="658" y="310.5" width="1" height="21.0" fill="#b5de2b"/><rect x="659" y="310.5" width="1" height="21.0" fill="#dae319"/><rect x="660" y="310.5" width="1" height="21.0" fill="#e5e419"/><rect x="661" y="310.5" width="1" height="21.0" fill="#89d548"/><rect x="662" y="310.5" width="1" height="21.0" fill="#3dbc74"/><rect x="663" y="310.5" width="1" height="21.0" fill="#21a685"/><rect x="664" y="310.5" width="1" height="21.0" fill="#1f9e89"/><rect x="665" y="310.5" width="3" height="21.0" fill="#1e9d89"/><rect x="668" y="310.5" width="1" height="21.0" fill="#1f998a"/><rect x="669" y="310.5" width="1" height="21.0" fill="#218f8d"/><rect x="670" y="310.5" width="1" height="21.0" fill="#228b8d"/><rect x="671" y="310.5" width="1" height="21.0" fill="#1f968b"/><rect x="672" y="310.5" width="1" height="21.0" fill="#21a685"/><rect x="673" y="310.5" width="1" height="21.0" fill="#26ad81"/><rect x="674" y="310.5" width="1" height="21.0" fill="#35b779"/><rect x="675" y="310.5" width="1" height="21.0" fill="#46c06f"/><rect x="676" y="310.5" width="1" height="21.0" fill="#58c765"/><rect x="677" y="310.5" width="1" height="21.0" fill="#5cc863"/><rect x="678" y="310.5" width="1" height="21.0" fill="#48c16e"/><rect x="679" y="310.5" width="1" height="21.0" fill="#28ae80"/><rect x="680" y="310.5" width="1" height="21.0" fill="#52c569"/><rect x="681" y="310.5" width="1" height="21.0" fill="#c5e021"/><rect x="682" y="310.5" width="1" height="21.0" fill="#7fd34e"/><rect x="683" y="310.5" width="1" height="21.0" fill="#1e9d89"/><rect x="684" y="310.5" width="1" height="21.0" fill="#228d8d"/><rect x="685" y="310.5" width="4" height="21.0" fill="#228c8d"/><rect x="689" y="310.5" width="1" height="21.0" fill="#218f8d"/><rect x="690" y="310.5" width="1" height="21.0" fill="#1f988b"/><rect x="691" y="310.5" width="1" height="21.0" fill="#24aa83"/><rect x="692" y="310.5" width="1" height="21.0" fill="#32b67a"/><rect x="693" y="310.5" width="1" height="21.0" fill="#65cb5e"/><rect x="694" y="310.5" width="1" height="21.0" fill="#81d34d"/><rect x="695" y="310.5" width="2" height="21.0" fill="#8ed645"/><rect x="697" y="310.5" width="1" height="21.0" fill="#84d44b"/><rect x="698" y="310.5" width="1" height="21.0" fill="#7fd34e"/><rect x="699" y="310.5" width="1" height="21.0" fill="#84d44b"/><rect x="700" y="310.5" width="1" height="21.0" fill="#8ed645"/><rect x="701" y="310.5" width="1" height="21.0" fill="#93d741"/><rect x="702" y="310.5" width="1" height="21.0" fill="#8ed645"/><rect x="703" y="310.5" width="1" height="21.0" fill="#84d44b"/><rect x="704" y="310.5" width="1" height="21.0" fill="#7cd250"/><rect x="705" y="310.5" width="1" height="21.0" fill="#65cb5e"/><rect x="706" y="310.5" width="1" height="21.0" fill="#42be71"/><rect x="707" y="310.5" width="1" height="21.0" fill="#44bf70"/><rect x="708" y="310.5" width="1" height="21.0" fill="#8bd646"/><rect x="709" y="310.5" width="1" height="21.0" fill="#d2e21b"/><rect x="710" y="310.5" width="1" height="21.0" fill="#d0e11c"/><rect x="711" y="310.5" width="1" height="21.0" fill="#93d741"/><rect x="712" y="310.5" width="1" height="21.0" fill="#65cb5e"/><rect x="713" y="310.5" width="1" height="21.0" fill="#60ca60"/><rect x="714" y="310.5" width="1" height="21.0" fill="#56c667"/><rect x="715" y="310.5" width="1" height="21.0" fill="#27ad81"/><rect x="716" y="310.5" width="1" height="21.0" fill="#21a685"/><rect x="717" y="310.5" width="1" height="21.0" fill="#52c569"/><rect x="718" y="310.5" width="1" height="21.0" fill="#75d054"/><rect x="719" y="310.5" width="1" height="21.0" fill="#2db27d"/><rect x="720" y="310.5" width="1" height="21.0" fill="#32b67a"/><rect x="721" y="310.5" width="1" height="21.0" fill="#89d548"/><rect x="722" y="310.5" width="1" height="21.0" fill="#7cd250"/><rect x="723" y="310.5" width="1" height="21.0" fill="#84d44b"/><rect x="724" y="310.5" width="1" height="21.0" fill="#b8de29"/><rect x="725" y="310.5" width="1" height="21.0" fill="#c0df25"/><rect x="726" y="310.5" width="1" height="21.0" fill="#a5db36"/><rect x="727" y="310.5" width="1" height="21.0" fill="#8ed645"/><rect x="728" y="310.5" width="2" height="21.0" fill="#8bd646"/><rect x="730" y="310.5" width="1" height="21.0" fill="#7fd34e"/><rect x="731" y="310.5" width="1" height="21.0" fill="#5ec962"/><rect x="732" y="310.5" width="1" height="21.0" fill="#56c667"/><rect x="733" y="310.5" width="1" height="21.0" fill="#6ece58"/><rect x="734" y="310.5" width="1" height="21.0" fill="#7fd34e"/><rect x="735" y="310.5" width="1" height="21.0" fill="#84d44b"/><rect x="736" y="310.5" width="1" height="21.0" fill="#9bd93c"/><rect x="737" y="310.5" width="1" height="21.0" fill="#a2da37"/><rect x="738" y="310.5" width="1" height="21.0" fill="#81d34d"/><rect x="739" y="310.5" width="2" height="21.0" fill="#67cc5c"/><rect x="741" y="310.5" width="1" height="21.0" fill="#75d054"/><rect x="742" y="310.5" width="1" height="21.0" fill="#5cc863"/><rect x="743" y="310.5" width="1" height="21.0" fill="#38b977"/><rect x="744" y="310.5" width="2" height="21.0" fill="#32b67a"/><rect x="746" y="310.5" width="1" height="21.0" fill="#37b878"/><rect x="747" y="310.5" width="1" height="21.0" fill="#50c46a"/><rect x="748" y="310.5" width="1" height="21.0" fill="#63cb5f"/><rect x="749" y="310.5" width="1" height="21.0" fill="#65cb5e"/><rect x="750" y="310.5" width="1" height="21.0" fill="#67cc5c"/><rect x="751" y="310.5" width="1" height="21.0" fill="#81d34d"/><rect x="752" y="310.5" width="1" height="21.0" fill="#a2da37"/><rect x="753" y="310.5" width="1" height="21.0" fill="#a0da39"/><rect x="754" y="310.5" width="1" height="21.0" fill="#84d44b"/><rect x="755" y="310.5" width="1" height="21.0" fill="#73d056"/><rect x="756" y="310.5" width="1" height="21.0" fill="#70cf57"/><rect x="757" y="310.5" width="1" height="21.0" fill="#6ece58"/><rect x="758" y="310.5" width="1" height="21.0" fill="#5cc863"/><rect x="759" y="310.5" width="1" height="21.0" fill="#50c46a"/><rect x="760" y="310.5" width="1" height="21.0" fill="#4ec36b"/><rect x="761" y="310.5" width="1" height="21.0" fill="#40bd72"/><rect x="762" y="310.5" width="1" height="21.0" fill="#2db27d"/><rect x="763" y="310.5" width="2" height="21.0" fill="#28ae80"/><rect x="765" y="310.5" width="1" height="21.0" fill="#37b878"/><rect x="766" y="310.5" width="1" height="21.0" fill="#5ac864"/><rect x="767" y="310.5" width="3" height="21.0" fill="#65cb5e"/><rect x="770" y="310.5" width="1" height="21.0" fill="#63cb5f"/><rect x="771" y="310.5" width="1" height="21.0" fill="#60ca60"/><rect x="772" y="310.5" width="2" height="21.0" fill="#5ec962"/><rect x="774" y="310.5" width="1" height="21.0" fill="#60ca60"/><rect x="775" y="310.5" width="1" height="21.0" fill="#75d054"/><rect x="776" y="310.5" width="1" height="21.0" fill="#93d741"/><rect x="777" y="310.5" width="1" height="21.0" fill="#9bd93c"/><rect x="778" y="310.5" width="1" height="21.0" fill="#90d743"/><rect x="779" y="310.5" width="1" height="21.0" fill="#73d056"/><rect x="780" y="310.5" width="4" height="21.0" fill="#65cb5e"/><rect x="784" y="310.5" width="1" height="21.0" fill="#69cd5b"/><rect x="785" y="310.5" width="1" height="21.0" fill="#70cf57"/><rect x="786" y="310.5" width="1" height="21.0" fill="#6ece58"/><rect x="787" y="310.5" width="1" height="21.0" fill="#5ac864"/><rect x="788" y="310.5" width="1" height="21.0" fill="#65cb5e"/><rect x="789" y="310.5" width="1" height="21.0" fill="#a0da39"/><rect x="790" y="310.5" width="1" height="21.0" fill="#90d743"/><rect x="791" y="310.5" width="2" height="21.0" fill="#7fd34e"/><rect x="793" y="310.5" width="1" height="21.0" fill="#90d743"/><rect x="794" y="310.5" width="1" height="21.0" fill="#b0dd2f"/><rect x="795" y="310.5" width="1" height="21.0" fill="#b5de2b"/><rect x="796" y="310.5" width="1" height="21.0" fill="#a0da39"/><rect x="797" y="310.5" width="1" height="21.0" fill="#73d056"/><rect x="798" y="310.5" width="2" height="21.0" fill="#65cb5e"/><rect x="800" y="310.5" width="1" height="21.0" fill="#63cb5f"/><rect x="801" y="310.5" width="9" height="21.0" fill="#5ec962"/></g><g mask="url(#mbg3)"><rect x="67" y="378.5" width="1" height="24.0" fill="#21918c"/><rect x="68" y="378.5" width="1" height="24.0" fill="#21908d"/><rect x="69" y="378.5" width="1" height="24.0" fill="#228b8d"/><rect x="70" y="378.5" width="1" height="24.0" fill="#277f8e"/><rect x="71" y="378.5" width="1" height="24.0" fill="#23888e"/><rect x="72" y="378.5" width="1" height="24.0" fill="#1f9a8a"/><rect x="73" y="378.5" width="1" height="24.0" fill="#1f958b"/><rect x="74" y="378.5" width="2" height="24.0" fill="#20928c"/><rect x="76" y="378.5" width="1" height="24.0" fill="#1f978b"/><rect x="77" y="378.5" width="1" height="24.0" fill="#1e9b8a"/><rect x="78" y="378.5" width="1" height="24.0" fill="#1e9c89"/><rect x="79" y="378.5" width="1" height="24.0" fill="#1e9b8a"/><rect x="80" y="378.5" width="1" height="24.0" fill="#20938c"/><rect x="81" y="378.5" width="1" height="24.0" fill="#228d8d"/><rect x="82" y="378.5" width="1" height="24.0" fill="#1f958b"/><rect x="83" y="378.5" width="1" height="24.0" fill="#1f998a"/><rect x="84" y="378.5" width="1" height="24.0" fill="#1f978b"/><rect x="85" y="378.5" width="1" height="24.0" fill="#297a8e"/><rect x="86" y="378.5" width="2" height="24.0" fill="#414487"/><rect x="88" y="378.5" width="1" height="24.0" fill="#32648e"/><rect x="89" y="378.5" width="1" height="24.0" fill="#2c718e"/><rect x="90" y="378.5" width="1" height="24.0" fill="#2b748e"/><rect x="91" y="378.5" width="1" height="24.0" fill="#2c728e"/><rect x="92" y="378.5" width="1" height="24.0" fill="#355f8d"/><rect x="93" y="378.5" width="1" height="24.0" fill="#404688"/><rect x="94" y="378.5" width="1" height="24.0" fill="#3c4f8a"/><rect x="95" y="378.5" width="1" height="24.0" fill="#31678e"/><rect x="96" y="378.5" width="1" height="24.0" fill="#2f6c8e"/><rect x="97" y="378.5" width="1" height="24.0" fill="#34618d"/><rect x="98" y="378.5" width="1" height="24.0" fill="#414487"/><rect x="99" y="378.5" width="1" height="24.0" fill="#453781"/><rect x="100" y="378.5" width="1" height="24.0" fill="#453581"/><rect x="101" y="378.5" width="1" height="24.0" fill="#472e7c"/><rect x="102" y="378.5" width="1" height="24.0" fill="#482071"/><rect x="103" y="378.5" width="2" height="24.0" fill="#481c6e"/><rect x="105" y="378.5" width="7" height="24.0" fill="#481d6f"/><rect x="112" y="378.5" width="1" height="24.0" fill="#482475"/><rect x="113" y="378.5" width="1" height="24.0" fill="#463480"/><rect x="114" y="378.5" width="1" height="24.0" fill="#443a83"/><rect x="115" y="378.5" width="1" height="24.0" fill="#433e85"/><rect x="116" y="378.5" width="1" height="24.0" fill="#3d4d8a"/><rect x="117" y="378.5" width="1" height="24.0" fill="#365c8d"/><rect x="118" y="378.5" width="1" height="24.0" fill="#30698e"/><rect x="119" y="378.5" width="1" height="24.0" fill="#2f6c8e"/><rect x="120" y="378.5" width="1" height="24.0" fill="#31688e"/><rect x="121" y="378.5" width="1" height="24.0" fill="#38598c"/><rect x="122" y="378.5" width="1" height="24.0" fill="#3d4d8a"/><rect x="123" y="378.5" width="1" height="24.0" fill="#3e4c8a"/><rect x="124" y="378.5" width="1" height="24.0" fill="#3f4889"/><rect x="125" y="378.5" width="1" height="24.0" fill="#433e85"/><rect x="126" y="378.5" width="1" height="24.0" fill="#453882"/><rect x="127" y="378.5" width="1" height="24.0" fill="#443a83"/><rect x="128" y="378.5" width="1" height="24.0" fill="#404688"/><rect x="129" y="378.5" width="1" height="24.0" fill="#3b518b"/><rect x="130" y="378.5" width="1" height="24.0" fill="#3a548c"/><rect x="131" y="378.5" width="1" height="24.0" fill="#355f8d"/><rect x="132" y="378.5" width="1" height="24.0" fill="#306a8e"/><rect x="133" y="378.5" width="1" height="24.0" fill="#2a768e"/><rect x="134" y="378.5" width="1" height="24.0" fill="#25838e"/><rect x="135" y="378.5" width="1" height="24.0" fill="#2b748e"/><rect x="136" y="378.5" width="1" height="24.0" fill="#32658e"/><rect x="137" y="378.5" width="1" height="24.0" fill="#2c738e"/><rect x="138" y="378.5" width="1" height="24.0" fill="#1fa187"/><rect x="139" y="378.5" width="1" height="24.0" fill="#2fb47c"/><rect x="140" y="378.5" width="1" height="24.0" fill="#21918c"/><rect x="141" y="378.5" width="1" height="24.0" fill="#31688e"/><rect x="142" y="378.5" width="1" height="24.0" fill="#29798e"/><rect x="143" y="378.5" width="1" height="24.0" fill="#1f9f88"/><rect x="144" y="378.5" width="1" height="24.0" fill="#26ad81"/><rect x="145" y="378.5" width="1" height="24.0" fill="#1e9c89"/><rect x="146" y="378.5" width="1" height="24.0" fill="#287d8e"/><rect x="147" y="378.5" width="1" height="24.0" fill="#2a768e"/><rect x="148" y="378.5" width="1" height="24.0" fill="#2b758e"/><rect x="149" y="378.5" width="1" height="24.0" fill="#365d8d"/><rect x="150" y="378.5" width="1" height="24.0" fill="#3d4e8a"/><rect x="151" y="378.5" width="1" height="24.0" fill="#3e4a89"/><rect x="152" y="378.5" width="1" height="24.0" fill="#414487"/><rect x="153" y="378.5" width="1" height="24.0" fill="#424186"/><rect x="154" y="378.5" width="1" height="24.0" fill="#414287"/><rect x="155" y="378.5" width="1" height="24.0" fill="#3a548c"/><rect x="156" y="378.5" width="1" height="24.0" fill="#2a788e"/><rect x="157" y="378.5" width="2" height="24.0" fill="#25838e"/><rect x="159" y="378.5" width="1" height="24.0" fill="#27808e"/><rect x="160" y="378.5" width="1" height="24.0" fill="#2c738e"/><rect x="161" y="378.5" width="2" height="24.0" fill="#2f6c8e"/><rect x="163" y="378.5" width="1" height="24.0" fill="#306a8e"/><rect x="164" y="378.5" width="1" height="24.0" fill="#355f8d"/><rect x="165" y="378.5" width="1" height="24.0" fill="#39558c"/><rect x="166" y="378.5" width="1" height="24.0" fill="#3a548c"/><rect x="167" y="378.5" width="1" height="24.0" fill="#365d8d"/><rect x="168" y="378.5" width="1" height="24.0" fill="#2e6d8e"/><rect x="169" y="378.5" width="1" height="24.0" fill="#2a768e"/><rect x="170" y="378.5" width="1" height="24.0" fill="#2d708e"/><rect x="171" y="378.5" width="1" height="24.0" fill="#3a538b"/><rect x="172" y="378.5" width="1" height="24.0" fill="#424186"/><rect x="173" y="378.5" width="3" height="24.0" fill="#424086"/><rect x="176" y="378.5" width="1" height="24.0" fill="#3f4788"/><rect x="177" y="378.5" width="1" height="24.0" fill="#365c8d"/><rect x="178" y="378.5" width="1" height="24.0" fill="#355f8d"/><rect x="179" y="378.5" width="1" height="24.0" fill="#3b528b"/><rect x="180" y="378.5" width="1" height="24.0" fill="#3c4f8a"/><rect x="181" y="378.5" width="1" height="24.0" fill="#3a548c"/><rect x="182" y="378.5" width="1" height="24.0" fill="#2e6e8e"/><rect x="183" y="378.5" width="1" height="24.0" fill="#24878e"/><rect x="184" y="378.5" width="1" height="24.0" fill="#20928c"/><rect x="185" y="378.5" width="1" height="24.0" fill="#21908d"/><rect x="186" y="378.5" width="1" height="24.0" fill="#277f8e"/><rect x="187" y="378.5" width="1" height="24.0" fill="#355f8d"/><rect x="188" y="378.5" width="1" height="24.0" fill="#404688"/><rect x="189" y="378.5" width="4" height="24.0" fill="#414287"/><rect x="193" y="378.5" width="1" height="24.0" fill="#404588"/><rect x="194" y="378.5" width="1" height="24.0" fill="#39568c"/><rect x="195" y="378.5" width="1" height="24.0" fill="#30698e"/><rect x="196" y="378.5" width="1" height="24.0" fill="#31688e"/><rect x="197" y="378.5" width="1" height="24.0" fill="#34618d"/><rect x="198" y="378.5" width="4" height="24.0" fill="#355f8d"/><rect x="202" y="378.5" width="1" height="24.0" fill="#32648e"/><rect x="203" y="378.5" width="1" height="24.0" fill="#2a778e"/><rect x="204" y="378.5" width="3" height="24.0" fill="#26828e"/><rect x="207" y="378.5" width="1" height="24.0" fill="#2a778e"/><rect x="208" y="378.5" width="1" height="24.0" fill="#34618d"/><rect x="209" y="378.5" width="2" height="24.0" fill="#375a8c"/><rect x="211" y="378.5" width="1" height="24.0" fill="#38598c"/><rect x="212" y="378.5" width="1" height="24.0" fill="#3a548c"/><rect x="213" y="378.5" width="4" height="24.0" fill="#3b528b"/><rect x="217" y="378.5" width="1" height="24.0" fill="#39558c"/><rect x="218" y="378.5" width="1" height="24.0" fill="#33638d"/><rect x="219" y="378.5" width="1" height="24.0" fill="#2f6b8e"/><rect x="220" y="378.5" width="1" height="24.0" fill="#2c718e"/><rect x="221" y="378.5" width="1" height="24.0" fill="#297a8e"/><rect x="222" y="378.5" width="1" height="24.0" fill="#26818e"/><rect x="223" y="378.5" width="1" height="24.0" fill="#25858e"/><rect x="224" y="378.5" width="1" height="24.0" fill="#25838e"/><rect x="225" y="378.5" width="1" height="24.0" fill="#2a778e"/><rect x="226" y="378.5" width="1" height="24.0" fill="#30698e"/><rect x="227" y="378.5" width="4" height="24.0" fill="#31668e"/><rect x="231" y="378.5" width="1" height="24.0" fill="#33638d"/><rect x="232" y="378.5" width="1" height="24.0" fill="#355f8d"/><rect x="233" y="378.5" width="1" height="24.0" fill="#34608d"/><rect x="234" y="378.5" width="1" height="24.0" fill="#31668e"/><rect x="235" y="378.5" width="1" height="24.0" fill="#30698e"/><rect x="236" y="378.5" width="1" height="24.0" fill="#306a8e"/><rect x="237" y="378.5" width="1" height="24.0" fill="#2d718e"/><rect x="238" y="378.5" width="1" height="24.0" fill="#297a8e"/><rect x="239" y="378.5" width="1" height="24.0" fill="#297b8e"/><rect x="240" y="378.5" width="1" height="24.0" fill="#2c718e"/><rect x="241" y="378.5" width="1" height="24.0" fill="#32658e"/><rect x="242" y="378.5" width="1" height="24.0" fill="#306a8e"/><rect x="243" y="378.5" width="1" height="24.0" fill="#2c718e"/><rect x="244" y="378.5" width="1" height="24.0" fill="#2a768e"/><rect x="245" y="378.5" width="1" height="24.0" fill="#287c8e"/><rect x="246" y="378.5" width="1" height="24.0" fill="#25858e"/><rect x="247" y="378.5" width="1" height="24.0" fill="#21918c"/><rect x="248" y="378.5" width="1" height="24.0" fill="#25858e"/><rect x="249" y="378.5" width="1" height="24.0" fill="#2e6e8e"/><rect x="250" y="378.5" width="3" height="24.0" fill="#31678e"/><rect x="253" y="378.5" width="1" height="24.0" fill="#30698e"/><rect x="254" y="378.5" width="1" height="24.0" fill="#2e6d8e"/><rect x="255" y="378.5" width="1" height="24.0" fill="#2d708e"/><rect x="256" y="378.5" width="1" height="24.0" fill="#2a778e"/><rect x="257" y="378.5" width="1" height="24.0" fill="#277e8e"/><rect x="258" y="378.5" width="2" height="24.0" fill="#27808e"/><rect x="260" y="378.5" width="1" height="24.0" fill="#277e8e"/><rect x="261" y="378.5" width="1" height="24.0" fill="#2d708e"/><rect x="262" y="378.5" width="1" height="24.0" fill="#355f8d"/><rect x="263" y="378.5" width="1" height="24.0" fill="#365c8d"/><rect x="264" y="378.5" width="1" height="24.0" fill="#365d8d"/><rect x="265" y="378.5" width="1" height="24.0" fill="#33628d"/><rect x="266" y="378.5" width="3" height="24.0" fill="#31678e"/><rect x="269" y="378.5" width="1" height="24.0" fill="#31688e"/><rect x="270" y="378.5" width="1" height="24.0" fill="#306a8e"/><rect x="271" y="378.5" width="1" height="24.0" fill="#2d708e"/><rect x="272" y="378.5" width="1" height="24.0" fill="#2d718e"/><rect x="273" y="378.5" width="1" height="24.0" fill="#32658e"/><rect x="274" y="378.5" width="1" height="24.0" fill="#39558c"/><rect x="275" y="378.5" width="3" height="24.0" fill="#3a538b"/><rect x="278" y="378.5" width="1" height="24.0" fill="#3a548c"/><rect x="279" y="378.5" width="1" height="24.0" fill="#355f8d"/><rect x="280" y="378.5" width="1" height="24.0" fill="#2d708e"/><rect x="281" y="378.5" width="13" height="24.0" fill="#2c718e"/><rect x="294" y="378.5" width="1" height="24.0" fill="#2d718e"/><rect x="295" y="378.5" width="1" height="24.0" fill="#32658e"/><rect x="296" y="378.5" width="234" height="24.0" fill="#440154"/><rect x="530" y="378.5" width="1" height="24.0" fill="#1e9d89"/><rect x="531" y="378.5" width="1" height="24.0" fill="#40bd72"/><rect x="532" y="378.5" width="1" height="24.0" fill="#56c667"/><rect x="533" y="378.5" width="1" height="24.0" fill="#58c765"/><rect x="534" y="378.5" width="1" height="24.0" fill="#44bf70"/><rect x="535" y="378.5" width="1" height="24.0" fill="#2ab07f"/><rect x="536" y="378.5" width="1" height="24.0" fill="#26ad81"/><rect x="537" y="378.5" width="2" height="24.0" fill="#25ac82"/><rect x="539" y="378.5" width="1" height="24.0" fill="#25ab82"/><rect x="540" y="378.5" width="1" height="24.0" fill="#21a685"/><rect x="541" y="378.5" width="1" height="24.0" fill="#1fa088"/><rect x="542" y="378.5" width="2" height="24.0" fill="#1f9e89"/><rect x="544" y="378.5" width="1" height="24.0" fill="#1e9d89"/><rect x="545" y="378.5" width="1" height="24.0" fill="#1f9a8a"/><rect x="546" y="378.5" width="1" height="24.0" fill="#20928c"/><rect x="547" y="378.5" width="2" height="24.0" fill="#21908d"/><rect x="549" y="378.5" width="3" height="24.0" fill="#218f8d"/><rect x="552" y="378.5" width="1" height="24.0" fill="#21918c"/><rect x="553" y="378.5" width="1" height="24.0" fill="#1f968b"/><rect x="554" y="378.5" width="2" height="24.0" fill="#1f998a"/><rect x="556" y="378.5" width="1" height="24.0" fill="#1f988b"/><rect x="557" y="378.5" width="1" height="24.0" fill="#20938c"/><rect x="558" y="378.5" width="1" height="24.0" fill="#228d8d"/><rect x="559" y="378.5" width="1" height="24.0" fill="#228b8d"/><rect x="560" y="378.5" width="1" height="24.0" fill="#238a8d"/><rect x="561" y="378.5" width="1" height="24.0" fill="#228d8d"/><rect x="562" y="378.5" width="1" height="24.0" fill="#20928c"/><rect x="563" y="378.5" width="3" height="24.0" fill="#1f948c"/><rect x="566" y="378.5" width="6" height="24.0" fill="#20938c"/><rect x="572" y="378.5" width="1" height="24.0" fill="#1f968b"/><rect x="573" y="378.5" width="4" height="24.0" fill="#1f9a8a"/><rect x="577" y="378.5" width="1" height="24.0" fill="#1e9c89"/><rect x="578" y="378.5" width="1" height="24.0" fill="#1fa088"/><rect x="579" y="378.5" width="2" height="24.0" fill="#1fa187"/><rect x="581" y="378.5" width="5" height="24.0" fill="#1fa188"/><rect x="586" y="378.5" width="1" height="24.0" fill="#1fa088"/><rect x="587" y="378.5" width="1" height="24.0" fill="#1f968b"/><rect x="588" y="378.5" width="1" height="24.0" fill="#238a8d"/><rect x="589" y="378.5" width="1" height="24.0" fill="#23888e"/><rect x="590" y="378.5" width="1" height="24.0" fill="#20938c"/><rect x="591" y="378.5" width="1" height="24.0" fill="#2ab07f"/><rect x="592" y="378.5" width="1" height="24.0" fill="#3bbb75"/><rect x="593" y="378.5" width="1" height="24.0" fill="#35b779"/><rect x="594" y="378.5" width="1" height="24.0" fill="#25ab82"/><rect x="595" y="378.5" width="1" height="24.0" fill="#20a486"/><rect x="596" y="378.5" width="4" height="24.0" fill="#20a386"/><rect x="600" y="378.5" width="1" height="24.0" fill="#1f9e89"/><rect x="601" y="378.5" width="1" height="24.0" fill="#1e9b8a"/><rect x="602" y="378.5" width="1" height="24.0" fill="#20938c"/><rect x="603" y="378.5" width="2" height="24.0" fill="#228d8d"/><rect x="605" y="378.5" width="1" height="24.0" fill="#21918c"/><rect x="606" y="378.5" width="1" height="24.0" fill="#1e9b8a"/><rect x="607" y="378.5" width="1" height="24.0" fill="#1f9e89"/><rect x="608" y="378.5" width="1" height="24.0" fill="#1f9a8a"/><rect x="609" y="378.5" width="1" height="24.0" fill="#1f948c"/><rect x="610" y="378.5" width="3" height="24.0" fill="#20938c"/><rect x="613" y="378.5" width="1" height="24.0" fill="#1f968b"/><rect x="614" y="378.5" width="1" height="24.0" fill="#1f9f88"/><rect x="615" y="378.5" width="3" height="24.0" fill="#1fa287"/><rect x="618" y="378.5" width="4" height="24.0" fill="#1fa187"/><rect x="622" y="378.5" width="2" height="24.0" fill="#1fa188"/><rect x="624" y="378.5" width="1" height="24.0" fill="#1e9b8a"/><rect x="625" y="378.5" width="1" height="24.0" fill="#20928c"/><rect x="626" y="378.5" width="1" height="24.0" fill="#21918c"/><rect x="627" y="378.5" width="2" height="24.0" fill="#21908d"/><rect x="629" y="378.5" width="1" height="24.0" fill="#20928c"/><rect x="630" y="378.5" width="1" height="24.0" fill="#1f9a8a"/><rect x="631" y="378.5" width="1" height="24.0" fill="#1e9d89"/><rect x="632" y="378.5" width="5" height="24.0" fill="#1e9c89"/><rect x="637" y="378.5" width="2" height="24.0" fill="#1e9b8a"/><rect x="639" y="378.5" width="1" height="24.0" fill="#1f9a8a"/><rect x="640" y="378.5" width="1" height="24.0" fill="#238a8d"/><rect x="641" y="378.5" width="1" height="24.0" fill="#29798e"/><rect x="642" y="378.5" width="1" height="24.0" fill="#2b748e"/><rect x="643" y="378.5" width="1" height="24.0" fill="#228d8d"/><rect x="644" y="378.5" width="1" height="24.0" fill="#38b977"/><rect x="645" y="378.5" width="1" height="24.0" fill="#8ed645"/><rect x="646" y="378.5" width="1" height="24.0" fill="#e7e419"/><rect x="647" y="378.5" width="1" height="24.0" fill="#f4e61e"/><rect x="648" y="378.5" width="1" height="24.0" fill="#cde11d"/><rect x="649" y="378.5" width="1" height="24.0" fill="#69cd5b"/><rect x="650" y="378.5" width="1" height="24.0" fill="#44bf70"/><rect x="651" y="378.5" width="1" height="24.0" fill="#2db27d"/><rect x="652" y="378.5" width="1" height="24.0" fill="#20a486"/><rect x="653" y="378.5" width="1" height="24.0" fill="#1e9d89"/><rect x="654" y="378.5" width="1" height="24.0" fill="#228d8d"/><rect x="655" y="378.5" width="1" height="24.0" fill="#23898e"/><rect x="656" y="378.5" width="1" height="24.0" fill="#26ad81"/><rect x="657" y="378.5" width="1" height="24.0" fill="#90d743"/><rect x="658" y="378.5" width="1" height="24.0" fill="#bade28"/><rect x="659" y="378.5" width="1" height="24.0" fill="#dfe318"/><rect x="660" y="378.5" width="1" height="24.0" fill="#eae51a"/><rect x="661" y="378.5" width="1" height="24.0" fill="#90d743"/><rect x="662" y="378.5" width="1" height="24.0" fill="#40bd72"/><rect x="663" y="378.5" width="1" height="24.0" fill="#22a884"/><rect x="664" y="378.5" width="1" height="24.0" fill="#1fa088"/><rect x="665" y="378.5" width="3" height="24.0" fill="#1f9f88"/><rect x="668" y="378.5" width="1" height="24.0" fill="#1e9b8a"/><rect x="669" y="378.5" width="1" height="24.0" fill="#21918c"/><rect x="670" y="378.5" width="1" height="24.0" fill="#228d8d"/><rect x="671" y="378.5" width="1" height="24.0" fill="#1f988b"/><rect x="672" y="378.5" width="1" height="24.0" fill="#22a884"/><rect x="673" y="378.5" width="1" height="24.0" fill="#28ae80"/><rect x="674" y="378.5" width="1" height="24.0" fill="#38b977"/><rect x="675" y="378.5" width="1" height="24.0" fill="#4ac16d"/><rect x="676" y="378.5" width="1" height="24.0" fill="#5ac864"/><rect x="677" y="378.5" width="1" height="24.0" fill="#5ec962"/><rect x="678" y="378.5" width="1" height="24.0" fill="#4cc26c"/><rect x="679" y="378.5" width="1" height="24.0" fill="#2ab07f"/><rect x="680" y="378.5" width="1" height="24.0" fill="#54c568"/><rect x="681" y="378.5" width="1" height="24.0" fill="#cae11f"/><rect x="682" y="378.5" width="1" height="24.0" fill="#81d34d"/><rect x="683" y="378.5" width="1" height="24.0" fill="#1f9f88"/><rect x="684" y="378.5" width="5" height="24.0" fill="#218e8d"/><rect x="689" y="378.5" width="1" height="24.0" fill="#21908d"/><rect x="690" y="378.5" width="1" height="24.0" fill="#1f958b"/><rect x="691" y="378.5" width="1" height="24.0" fill="#21a585"/><rect x="692" y="378.5" width="1" height="24.0" fill="#2cb17e"/><rect x="693" y="378.5" width="1" height="24.0" fill="#58c765"/><rect x="694" y="378.5" width="1" height="24.0" fill="#73d056"/><rect x="695" y="378.5" width="2" height="24.0" fill="#7cd250"/><rect x="697" y="378.5" width="1" height="24.0" fill="#73d056"/><rect x="698" y="378.5" width="1" height="24.0" fill="#70cf57"/><rect x="699" y="378.5" width="1" height="24.0" fill="#73d056"/><rect x="700" y="378.5" width="1" height="24.0" fill="#7cd250"/><rect x="701" y="378.5" width="1" height="24.0" fill="#81d34d"/><rect x="702" y="378.5" width="1" height="24.0" fill="#7cd250"/><rect x="703" y="378.5" width="1" height="24.0" fill="#73d056"/><rect x="704" y="378.5" width="1" height="24.0" fill="#6ece58"/><rect x="705" y="378.5" width="1" height="24.0" fill="#58c765"/><rect x="706" y="378.5" width="1" height="24.0" fill="#3aba76"/><rect x="707" y="378.5" width="1" height="24.0" fill="#3bbb75"/><rect x="708" y="378.5" width="1" height="24.0" fill="#7cd250"/><rect x="709" y="378.5" width="1" height="24.0" fill="#bddf26"/><rect x="710" y="378.5" width="1" height="24.0" fill="#bade28"/><rect x="711" y="378.5" width="1" height="24.0" fill="#81d34d"/><rect x="712" y="378.5" width="1" height="24.0" fill="#58c765"/><rect x="713" y="378.5" width="1" height="24.0" fill="#54c568"/><rect x="714" y="378.5" width="1" height="24.0" fill="#4ac16d"/><rect x="715" y="378.5" width="1" height="24.0" fill="#23a983"/><rect x="716" y="378.5" width="1" height="24.0" fill="#1fa287"/><rect x="717" y="378.5" width="1" height="24.0" fill="#46c06f"/><rect x="718" y="378.5" width="1" height="24.0" fill="#67cc5c"/><rect x="719" y="378.5" width="1" height="24.0" fill="#28ae80"/><rect x="720" y="378.5" width="1" height="24.0" fill="#2cb17e"/><rect x="721" y="378.5" width="1" height="24.0" fill="#77d153"/><rect x="722" y="378.5" width="1" height="24.0" fill="#6ece58"/><rect x="723" y="378.5" width="1" height="24.0" fill="#73d056"/><rect x="724" y="378.5" width="1" height="24.0" fill="#a2da37"/><rect x="725" y="378.5" width="1" height="24.0" fill="#aadc32"/><rect x="726" y="378.5" width="1" height="24.0" fill="#93d741"/><rect x="727" y="378.5" width="1" height="24.0" fill="#7fd34e"/><rect x="728" y="378.5" width="1" height="24.0" fill="#7cd250"/><rect x="729" y="378.5" width="1" height="24.0" fill="#7ad151"/><rect x="730" y="378.5" width="1" height="24.0" fill="#70cf57"/><rect x="731" y="378.5" width="1" height="24.0" fill="#52c569"/><rect x="732" y="378.5" width="1" height="24.0" fill="#4ac16d"/><rect x="733" y="378.5" width="1" height="24.0" fill="#60ca60"/><rect x="734" y="378.5" width="1" height="24.0" fill="#6ece58"/><rect x="735" y="378.5" width="1" height="24.0" fill="#75d054"/><rect x="736" y="378.5" width="1" height="24.0" fill="#89d548"/><rect x="737" y="378.5" width="1" height="24.0" fill="#8ed645"/><rect x="738" y="378.5" width="1" height="24.0" fill="#70cf57"/><rect x="739" y="378.5" width="2" height="24.0" fill="#5ac864"/><rect x="741" y="378.5" width="1" height="24.0" fill="#67cc5c"/><rect x="742" y="378.5" width="1" height="24.0" fill="#50c46a"/><rect x="743" y="378.5" width="1" height="24.0" fill="#31b57b"/><rect x="744" y="378.5" width="2" height="24.0" fill="#2cb17e"/><rect x="746" y="378.5" width="1" height="24.0" fill="#2fb47c"/><rect x="747" y="378.5" width="1" height="24.0" fill="#44bf70"/><rect x="748" y="378.5" width="1" height="24.0" fill="#56c667"/><rect x="749" y="378.5" width="1" height="24.0" fill="#58c765"/><rect x="750" y="378.5" width="1" height="24.0" fill="#5ac864"/><rect x="751" y="378.5" width="1" height="24.0" fill="#70cf57"/><rect x="752" y="378.5" width="1" height="24.0" fill="#90d743"/><rect x="753" y="378.5" width="1" height="24.0" fill="#8ed645"/><rect x="754" y="378.5" width="1" height="24.0" fill="#73d056"/><rect x="755" y="378.5" width="1" height="24.0" fill="#65cb5e"/><rect x="756" y="378.5" width="1" height="24.0" fill="#63cb5f"/><rect x="757" y="378.5" width="1" height="24.0" fill="#60ca60"/><rect x="758" y="378.5" width="1" height="24.0" fill="#50c46a"/><rect x="759" y="378.5" width="1" height="24.0" fill="#44bf70"/><rect x="760" y="378.5" width="1" height="24.0" fill="#42be71"/><rect x="761" y="378.5" width="1" height="24.0" fill="#38b977"/><rect x="762" y="378.5" width="1" height="24.0" fill="#27ad81"/><rect x="763" y="378.5" width="1" height="24.0" fill="#24aa83"/><rect x="764" y="378.5" width="1" height="24.0" fill="#25ab82"/><rect x="765" y="378.5" width="1" height="24.0" fill="#2fb47c"/><rect x="766" y="378.5" width="1" height="24.0" fill="#4ec36b"/><rect x="767" y="378.5" width="3" height="24.0" fill="#58c765"/><rect x="770" y="378.5" width="1" height="24.0" fill="#56c667"/><rect x="771" y="378.5" width="1" height="24.0" fill="#54c568"/><rect x="772" y="378.5" width="2" height="24.0" fill="#52c569"/><rect x="774" y="378.5" width="1" height="24.0" fill="#54c568"/><rect x="775" y="378.5" width="1" height="24.0" fill="#65cb5e"/><rect x="776" y="378.5" width="1" height="24.0" fill="#81d34d"/><rect x="777" y="378.5" width="1" height="24.0" fill="#89d548"/><rect x="778" y="378.5" width="1" height="24.0" fill="#7fd34e"/><rect x="779" y="378.5" width="1" height="24.0" fill="#65cb5e"/><rect x="780" y="378.5" width="4" height="24.0" fill="#58c765"/><rect x="784" y="378.5" width="1" height="24.0" fill="#5cc863"/><rect x="785" y="378.5" width="1" height="24.0" fill="#63cb5f"/><rect x="786" y="378.5" width="1" height="24.0" fill="#60ca60"/><rect x="787" y="378.5" width="1" height="24.0" fill="#4ec36b"/><rect x="788" y="378.5" width="1" height="24.0" fill="#58c765"/><rect x="789" y="378.5" width="1" height="24.0" fill="#8ed645"/><rect x="790" y="378.5" width="1" height="24.0" fill="#7fd34e"/><rect x="791" y="378.5" width="2" height="24.0" fill="#70cf57"/><rect x="793" y="378.5" width="1" height="24.0" fill="#7fd34e"/><rect x="794" y="378.5" width="1" height="24.0" fill="#9bd93c"/><rect x="795" y="378.5" width="1" height="24.0" fill="#a2da37"/><rect x="796" y="378.5" width="1" height="24.0" fill="#8ed645"/><rect x="797" y="378.5" width="1" height="24.0" fill="#65cb5e"/><rect x="798" y="378.5" width="2" height="24.0" fill="#58c765"/><rect x="800" y="378.5" width="1" height="24.0" fill="#56c667"/><rect x="801" y="378.5" width="9" height="24.0" fill="#52c569"/></g>
<rect x="857" y="31" width="19" height="384" fill="url(#cb)"/>
<g fill="none" stroke="#000" stroke-width="1">
<rect x="66.5" y="30.5" width="744" height="385"/>
<rect x="856.5" y="30.5" width="20" height="385"/>
</g>
<g><rect x="61" y="62" width="5" height="1" fill="#000"/><rect x="61" y="118" width="5" height="1" fill="#000"/><rect x="61" y="174" width="5" height="1" fill="#000"/><rect x="61" y="230" width="5" height="1" fill="#000"/><rect x="61" y="285" width="5" height="1" fill="#000"/><rect x="61" y="341" width="5" height="1" fill="#000"/><rect x="61" y="397" width="5" height="1" fill="#000"/><rect x="66" y="416" width="1" height="4" fill="#000"/><rect x="128" y="416" width="1" height="4" fill="#000"/><rect x="190" y="416" width="1" height="4" fill="#000"/><rect x="252" y="416" width="1" height="4" fill="#000"/><rect x="314" y="416" width="1" height="4" fill="#000"/><rect x="376" y="416" width="1" height="4" fill="#000"/><rect x="438" y="416" width="1" height="4" fill="#000"/><rect x="500" y="416" width="1" height="4" fill="#000"/><rect x="562" y="416" width="1" height="4" fill="#000"/><rect x="624" y="416" width="1" height="4" fill="#000"/><rect x="686" y="416" width="1" height="4" fill="#000"/><rect x="748" y="416" width="1" height="4" fill="#000"/><rect x="810" y="416" width="1" height="4" fill="#000"/><rect x="877" y="415" width="5" height="1" fill="#000"/><rect x="877" y="372" width="5" height="1" fill="#000"/><rect x="877" y="329" width="5" height="1" fill="#000"/><rect x="877" y="287" width="5" height="1" fill="#000"/><rect x="877" y="244" width="5" height="1" fill="#000"/><rect x="877" y="201" width="5" height="1" fill="#000"/><rect x="877" y="158" width="5" height="1" fill="#000"/><rect x="877" y="116" width="5" height="1" fill="#000"/><rect x="877" y="73" width="5" height="1" fill="#000"/><rect x="877" y="30" width="5" height="1" fill="#000"/></g>
<g font-family="Liberation Sans, sans-serif" fill="#000" stroke="#000" stroke-width="0.12" shape-rendering="geometricPrecision" opacity="0.999"><text x="183.3" y="21.9" font-size="17.00" text-anchor="start" textLength="81.4" lengthAdjust="spacingAndGlyphs">KHO/UNIS</text><text x="270.8" y="21.9" font-size="17.00" text-anchor="start" textLength="41.5" lengthAdjust="spacingAndGlyphs">1/2m</text><text x="318.4" y="21.9" font-size="17.00" text-anchor="start" textLength="48.2" lengthAdjust="spacingAndGlyphs">White</text><text x="372.8" y="21.9" font-size="17.00" text-anchor="start" textLength="99.2" lengthAdjust="spacingAndGlyphs">Ebert-Fastie</text><text x="477.3" y="21.9" font-size="17.00" text-anchor="start" textLength="111.2" lengthAdjust="spacingAndGlyphs">spectrometer</text><text x="594.6" y="21.9" font-size="17.00" text-anchor="start" textLength="96.7" lengthAdjust="spacingAndGlyphs">2026-02-01</text><text x="55.8" y="67.9" font-size="14.30" text-anchor="end" textLength="25.4" lengthAdjust="spacingAndGlyphs">660</text><text x="55.8" y="123.7" font-size="14.30" text-anchor="end" textLength="25.4" lengthAdjust="spacingAndGlyphs">655</text><text x="55.8" y="179.4" font-size="14.30" text-anchor="end" textLength="25.4" lengthAdjust="spacingAndGlyphs">650</text><text x="55.8" y="235.2" font-size="14.30" text-anchor="end" textLength="25.4" lengthAdjust="spacingAndGlyphs">645</text><text x="55.8" y="291.0" font-size="14.30" text-anchor="end" textLength="25.4" lengthAdjust="spacingAndGlyphs">640</text><text x="55.8" y="346.8" font-size="14.30" text-anchor="end" textLength="25.4" lengthAdjust="spacingAndGlyphs">635</text><text x="55.8" y="402.5" font-size="14.30" text-anchor="end" textLength="25.4" lengthAdjust="spacingAndGlyphs">630</text><text x="66.5" y="436.1" font-size="14.30" text-anchor="middle" textLength="14.7" lengthAdjust="spacingAndGlyphs">00</text><text x="128.5" y="436.1" font-size="14.30" text-anchor="middle" textLength="14.7" lengthAdjust="spacingAndGlyphs">02</text><text x="190.5" y="436.1" font-size="14.30" text-anchor="middle" textLength="14.7" lengthAdjust="spacingAndGlyphs">04</text><text x="252.5" y="436.1" font-size="14.30" text-anchor="middle" textLength="14.7" lengthAdjust="spacingAndGlyphs">06</text><text x="314.5" y="436.1" font-size="14.30" text-anchor="middle" textLength="14.7" lengthAdjust="spacingAndGlyphs">08</text><text x="376.5" y="436.1" font-size="14.30" text-anchor="middle" textLength="14.7" lengthAdjust="spacingAndGlyphs">10</text><text x="438.5" y="436.1" font-size="14.30" text-anchor="middle" textLength="14.7" lengthAdjust="spacingAndGlyphs">12</text><text x="500.5" y="436.1" font-size="14.30" text-anchor="middle" textLength="14.7" lengthAdjust="spacingAndGlyphs">14</text><text x="562.5" y="436.1" font-size="14.30" text-anchor="middle" textLength="14.7" lengthAdjust="spacingAndGlyphs">16</text><text x="624.5" y="436.1" font-size="14.30" text-anchor="middle" textLength="14.7" lengthAdjust="spacingAndGlyphs">18</text><text x="686.5" y="436.1" font-size="14.30" text-anchor="middle" textLength="14.7" lengthAdjust="spacingAndGlyphs">20</text><text x="748.5" y="436.1" font-size="14.30" text-anchor="middle" textLength="14.7" lengthAdjust="spacingAndGlyphs">22</text><text x="810.5" y="436.1" font-size="14.30" text-anchor="middle" textLength="14.7" lengthAdjust="spacingAndGlyphs">24</text><text x="394.3" y="455.5" font-size="14.30" text-anchor="start" textLength="87.1" lengthAdjust="spacingAndGlyphs">Time (hours)</text><text transform="translate(20.1,283.1) rotate(-90)" x="0" y="0" font-size="14.3" textLength="117.9" lengthAdjust="spacingAndGlyphs">Wavelength (nm)</text><text x="886.6" y="421.0" font-size="14.30" text-anchor="start" textLength="7.0" lengthAdjust="spacingAndGlyphs">0</text><text x="886.6" y="378.3" font-size="14.30" text-anchor="start" textLength="24.7" lengthAdjust="spacingAndGlyphs">100</text><text x="886.6" y="335.6" font-size="14.30" text-anchor="start" textLength="24.7" lengthAdjust="spacingAndGlyphs">200</text><text x="886.6" y="292.8" font-size="14.30" text-anchor="start" textLength="24.7" lengthAdjust="spacingAndGlyphs">300</text><text x="886.6" y="250.1" font-size="14.30" text-anchor="start" textLength="24.7" lengthAdjust="spacingAndGlyphs">400</text><text x="886.6" y="207.4" font-size="14.30" text-anchor="start" textLength="24.7" lengthAdjust="spacingAndGlyphs">500</text><text x="886.6" y="164.7" font-size="14.30" text-anchor="start" textLength="24.7" lengthAdjust="spacingAndGlyphs">600</text><text x="886.6" y="122.0" font-size="14.30" text-anchor="start" textLength="24.7" lengthAdjust="spacingAndGlyphs">700</text><text x="886.6" y="79.2" font-size="14.30" text-anchor="start" textLength="24.7" lengthAdjust="spacingAndGlyphs">800</text><text x="886.6" y="36.5" font-size="14.30" text-anchor="start" textLength="24.7" lengthAdjust="spacingAndGlyphs">900</text><text transform="translate(928.8,247.3) rotate(-90)" x="0" y="0" font-size="14.3" textLength="46.5" lengthAdjust="spacingAndGlyphs">Counts</text></g>
</svg>
</body></html>
